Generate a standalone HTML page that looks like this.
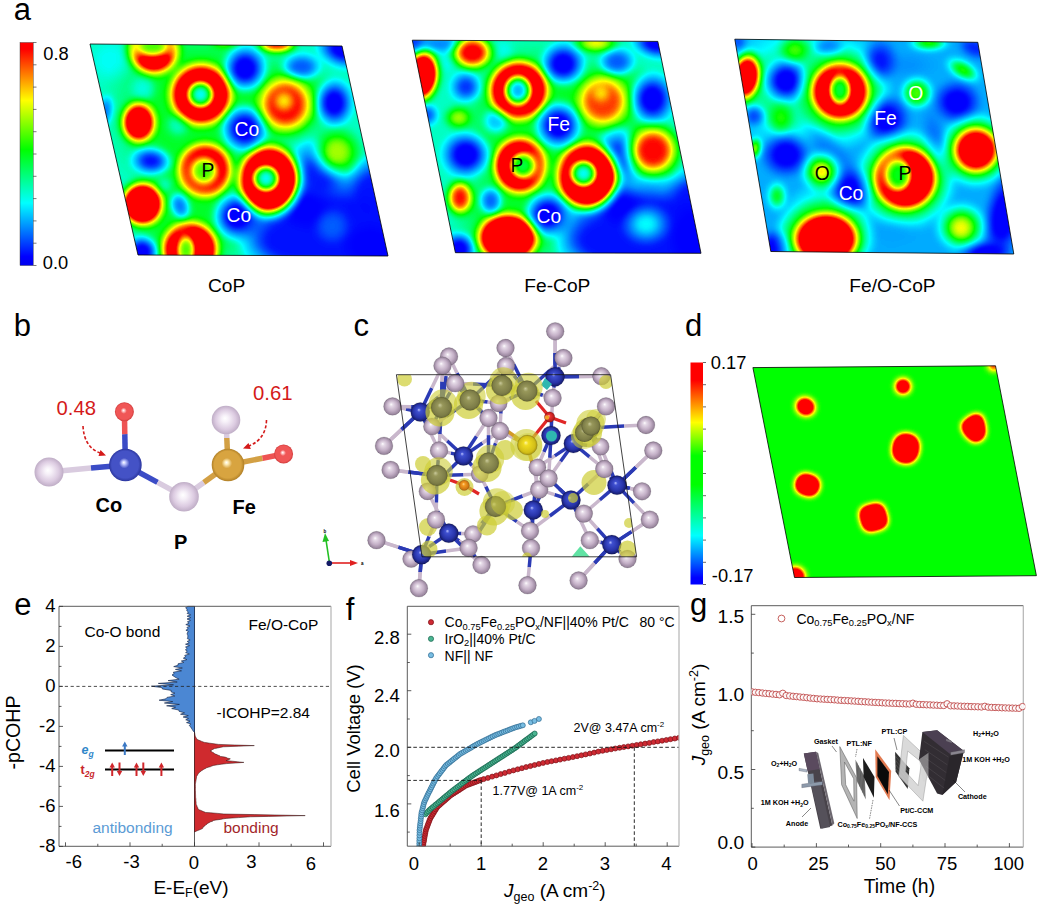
<!DOCTYPE html>
<html><head><meta charset="utf-8"><title>Figure</title>
<style>
html,body{margin:0;padding:0;background:#fff;}
svg{display:block;}
text{font-family:"Liberation Sans", sans-serif;}
</style></head><body>
<svg width="1040" height="904" viewBox="0 0 1040 904">
<defs>

<filter id="jet" x="0" y="0" width="1040" height="904" filterUnits="userSpaceOnUse" color-interpolation-filters="sRGB">
  <feGaussianBlur stdDeviation="3.0"/>
  <feComponentTransfer>
    <feFuncR type="table" tableValues="0.00 0.00 0.00 0.00 0.00 0.00 0.00 0.00 0.00 0.00 0.00 0.00 0.00 0.00 0.00 0.00 0.00 0.00 0.00 0.00 0.00 0.00 0.00 0.00 0.14 0.29 0.43 0.57 0.71 0.86 1.00 1.00 1.00 1.00 1.00 1.00 1.00 1.00 1.00 1.00 1.00 1.00 1.00 1.00 1.00 1.00 1.00 1.00 1.00 1.00 1.00"/>
    <feFuncG type="table" tableValues="0.00 0.00 0.04 0.11 0.19 0.26 0.33 0.41 0.48 0.56 0.63 0.70 0.78 0.85 0.93 1.00 1.00 1.00 1.00 1.00 1.00 1.00 1.00 1.00 1.00 1.00 1.00 1.00 1.00 1.00 1.00 0.86 0.71 0.57 0.43 0.29 0.14 0.00 0.00 0.00 0.00 0.00 0.00 0.00 0.00 0.00 0.00 0.00 0.00 0.00 0.00"/>
    <feFuncB type="table" tableValues="1.00 1.00 1.00 1.00 1.00 1.00 1.00 1.00 1.00 1.00 1.00 1.00 1.00 1.00 1.00 1.00 0.87 0.75 0.63 0.50 0.37 0.25 0.13 0.00 0.00 0.00 0.00 0.00 0.00 0.00 0.00 0.00 0.00 0.00 0.00 0.00 0.00 0.00 0.00 0.00 0.00 0.00 0.00 0.00 0.00 0.00 0.00 0.00 0.00 0.00 0.00"/>
  </feComponentTransfer>
</filter>

<linearGradient id="cbar" x1="0" y1="0" x2="0" y2="1">
  <stop offset="0" stop-color="#f00"/><stop offset="0.03" stop-color="#f00"/>
  <stop offset="0.26" stop-color="#ff0"/>
  <stop offset="0.48" stop-color="#0f0"/>
  <stop offset="0.72" stop-color="#0ff"/>
  <stop offset="0.96" stop-color="#00f"/><stop offset="1" stop-color="#00e"/>
</linearGradient>

<clipPath id="hc1"><polygon points="90.0,44.0 342.0,46.0 388.0,256.0 138.0,255.0"/></clipPath>
<radialGradient id="g1_0"><stop offset="0" stop-color="rgb(117,117,117)" stop-opacity="0.80"/><stop offset="0.50" stop-color="rgb(117,117,117)" stop-opacity="0.80"/><stop offset="0.75" stop-color="rgb(117,117,117)" stop-opacity="0.36"/><stop offset="1" stop-color="rgb(117,117,117)" stop-opacity="0"/></radialGradient>
<radialGradient id="g1_1"><stop offset="0" stop-color="rgb(117,117,117)" stop-opacity="0.80"/><stop offset="0.50" stop-color="rgb(117,117,117)" stop-opacity="0.80"/><stop offset="0.75" stop-color="rgb(117,117,117)" stop-opacity="0.36"/><stop offset="1" stop-color="rgb(117,117,117)" stop-opacity="0"/></radialGradient>
<radialGradient id="g1_2"><stop offset="0" stop-color="rgb(117,117,117)" stop-opacity="0.80"/><stop offset="0.50" stop-color="rgb(117,117,117)" stop-opacity="0.80"/><stop offset="0.75" stop-color="rgb(117,117,117)" stop-opacity="0.36"/><stop offset="1" stop-color="rgb(117,117,117)" stop-opacity="0"/></radialGradient>
<radialGradient id="g1_3"><stop offset="0" stop-color="rgb(12,12,12)" stop-opacity="1.00"/><stop offset="0.50" stop-color="rgb(12,12,12)" stop-opacity="1.00"/><stop offset="0.75" stop-color="rgb(12,12,12)" stop-opacity="0.45"/><stop offset="1" stop-color="rgb(12,12,12)" stop-opacity="0"/></radialGradient>
<radialGradient id="g1_4"><stop offset="0" stop-color="rgb(12,12,12)" stop-opacity="1.00"/><stop offset="0.50" stop-color="rgb(12,12,12)" stop-opacity="1.00"/><stop offset="0.75" stop-color="rgb(12,12,12)" stop-opacity="0.45"/><stop offset="1" stop-color="rgb(12,12,12)" stop-opacity="0"/></radialGradient>
<radialGradient id="g1_5"><stop offset="0" stop-color="rgb(12,12,12)" stop-opacity="0.95"/><stop offset="0.30" stop-color="rgb(12,12,12)" stop-opacity="0.95"/><stop offset="0.65" stop-color="rgb(12,12,12)" stop-opacity="0.43"/><stop offset="1" stop-color="rgb(12,12,12)" stop-opacity="0"/></radialGradient>
<radialGradient id="g1_6"><stop offset="0" stop-color="rgb(10,10,10)" stop-opacity="0.95"/><stop offset="0.40" stop-color="rgb(10,10,10)" stop-opacity="0.95"/><stop offset="0.70" stop-color="rgb(10,10,10)" stop-opacity="0.43"/><stop offset="1" stop-color="rgb(10,10,10)" stop-opacity="0"/></radialGradient>
<radialGradient id="g1_7"><stop offset="0" stop-color="rgb(0,0,0)" stop-opacity="0.90"/><stop offset="0.30" stop-color="rgb(0,0,0)" stop-opacity="0.90"/><stop offset="0.65" stop-color="rgb(0,0,0)" stop-opacity="0.41"/><stop offset="1" stop-color="rgb(0,0,0)" stop-opacity="0"/></radialGradient>
<radialGradient id="g1_8"><stop offset="0" stop-color="rgb(0,0,0)" stop-opacity="0.90"/><stop offset="0.30" stop-color="rgb(0,0,0)" stop-opacity="0.90"/><stop offset="0.65" stop-color="rgb(0,0,0)" stop-opacity="0.41"/><stop offset="1" stop-color="rgb(0,0,0)" stop-opacity="0"/></radialGradient>
<radialGradient id="g1_9"><stop offset="0" stop-color="rgb(38,38,38)" stop-opacity="0.80"/><stop offset="0.40" stop-color="rgb(38,38,38)" stop-opacity="0.80"/><stop offset="0.70" stop-color="rgb(38,38,38)" stop-opacity="0.36"/><stop offset="1" stop-color="rgb(38,38,38)" stop-opacity="0"/></radialGradient>
<radialGradient id="g1_10"><stop offset="0" stop-color="rgb(0,0,0)" stop-opacity="1.00"/><stop offset="0.35" stop-color="rgb(0,0,0)" stop-opacity="1.00"/><stop offset="0.68" stop-color="rgb(0,0,0)" stop-opacity="0.45"/><stop offset="1" stop-color="rgb(0,0,0)" stop-opacity="0"/></radialGradient>
<radialGradient id="g1_11"><stop offset="0" stop-color="rgb(0,0,0)" stop-opacity="1.00"/><stop offset="0.35" stop-color="rgb(0,0,0)" stop-opacity="1.00"/><stop offset="0.68" stop-color="rgb(0,0,0)" stop-opacity="0.45"/><stop offset="1" stop-color="rgb(0,0,0)" stop-opacity="0"/></radialGradient>
<radialGradient id="g1_12"><stop offset="0" stop-color="rgb(0,0,0)" stop-opacity="1.00"/><stop offset="0.35" stop-color="rgb(0,0,0)" stop-opacity="1.00"/><stop offset="0.68" stop-color="rgb(0,0,0)" stop-opacity="0.45"/><stop offset="1" stop-color="rgb(0,0,0)" stop-opacity="0"/></radialGradient>
<radialGradient id="g1_13"><stop offset="0" stop-color="rgb(0,0,0)" stop-opacity="1.00"/><stop offset="0.30" stop-color="rgb(0,0,0)" stop-opacity="1.00"/><stop offset="0.65" stop-color="rgb(0,0,0)" stop-opacity="0.45"/><stop offset="1" stop-color="rgb(0,0,0)" stop-opacity="0"/></radialGradient>
<radialGradient id="g1_14"><stop offset="0" stop-color="rgb(25,25,25)" stop-opacity="0.90"/><stop offset="0.40" stop-color="rgb(25,25,25)" stop-opacity="0.90"/><stop offset="0.70" stop-color="rgb(25,25,25)" stop-opacity="0.41"/><stop offset="1" stop-color="rgb(25,25,25)" stop-opacity="0"/></radialGradient>
<radialGradient id="g1_15"><stop offset="0" stop-color="rgb(0,0,0)" stop-opacity="1.00"/><stop offset="0.35" stop-color="rgb(0,0,0)" stop-opacity="1.00"/><stop offset="0.68" stop-color="rgb(0,0,0)" stop-opacity="0.45"/><stop offset="1" stop-color="rgb(0,0,0)" stop-opacity="0"/></radialGradient>
<radialGradient id="g1_16"><stop offset="0" stop-color="rgb(10,10,10)" stop-opacity="1.00"/><stop offset="0.30" stop-color="rgb(10,10,10)" stop-opacity="1.00"/><stop offset="0.65" stop-color="rgb(10,10,10)" stop-opacity="0.45"/><stop offset="1" stop-color="rgb(10,10,10)" stop-opacity="0"/></radialGradient>
<radialGradient id="g1_17"><stop offset="0" stop-color="rgb(30,30,30)" stop-opacity="0.90"/><stop offset="0.40" stop-color="rgb(30,30,30)" stop-opacity="0.90"/><stop offset="0.70" stop-color="rgb(30,30,30)" stop-opacity="0.41"/><stop offset="1" stop-color="rgb(30,30,30)" stop-opacity="0"/></radialGradient>
<radialGradient id="g1_18"><stop offset="0" stop-color="rgb(0,0,0)" stop-opacity="1.00"/><stop offset="0.40" stop-color="rgb(0,0,0)" stop-opacity="1.00"/><stop offset="0.70" stop-color="rgb(0,0,0)" stop-opacity="0.45"/><stop offset="1" stop-color="rgb(0,0,0)" stop-opacity="0"/></radialGradient>
<radialGradient id="g1_19"><stop offset="0" stop-color="rgb(30,30,30)" stop-opacity="0.90"/><stop offset="0.40" stop-color="rgb(30,30,30)" stop-opacity="0.90"/><stop offset="0.70" stop-color="rgb(30,30,30)" stop-opacity="0.41"/><stop offset="1" stop-color="rgb(30,30,30)" stop-opacity="0"/></radialGradient>
<radialGradient id="g1_20"><stop offset="0" stop-color="rgb(76,76,76)" stop-opacity="0.80"/><stop offset="0.40" stop-color="rgb(76,76,76)" stop-opacity="0.80"/><stop offset="0.70" stop-color="rgb(76,76,76)" stop-opacity="0.36"/><stop offset="1" stop-color="rgb(76,76,76)" stop-opacity="0"/></radialGradient>
<radialGradient id="g1_21"><stop offset="0" stop-color="rgb(76,76,76)" stop-opacity="0.70"/><stop offset="0.40" stop-color="rgb(76,76,76)" stop-opacity="0.70"/><stop offset="0.70" stop-color="rgb(76,76,76)" stop-opacity="0.32"/><stop offset="1" stop-color="rgb(76,76,76)" stop-opacity="0"/></radialGradient>
<radialGradient id="g1_22"><stop offset="0" stop-color="rgb(76,76,76)" stop-opacity="0.80"/><stop offset="0.40" stop-color="rgb(76,76,76)" stop-opacity="0.80"/><stop offset="0.70" stop-color="rgb(76,76,76)" stop-opacity="0.36"/><stop offset="1" stop-color="rgb(76,76,76)" stop-opacity="0"/></radialGradient>
<radialGradient id="g1_23"><stop offset="0" stop-color="rgb(76,76,76)" stop-opacity="0.70"/><stop offset="0.40" stop-color="rgb(76,76,76)" stop-opacity="0.70"/><stop offset="0.70" stop-color="rgb(76,76,76)" stop-opacity="0.32"/><stop offset="1" stop-color="rgb(76,76,76)" stop-opacity="0"/></radialGradient>
<radialGradient id="g1_24"><stop offset="0" stop-color="rgb(127,127,127)" stop-opacity="0.80"/><stop offset="0.40" stop-color="rgb(127,127,127)" stop-opacity="0.80"/><stop offset="0.70" stop-color="rgb(127,127,127)" stop-opacity="0.36"/><stop offset="1" stop-color="rgb(127,127,127)" stop-opacity="0"/></radialGradient>
<radialGradient id="g1_25"><stop offset="0" stop-color="rgb(140,140,140)" stop-opacity="1.00"/><stop offset="0.30" stop-color="rgb(140,140,140)" stop-opacity="1.00"/><stop offset="0.65" stop-color="rgb(140,140,140)" stop-opacity="0.45"/><stop offset="1" stop-color="rgb(140,140,140)" stop-opacity="0"/></radialGradient>
<radialGradient id="g1_26"><stop offset="0" stop-color="rgb(255,255,255)" stop-opacity="1.00"/><stop offset="0.50" stop-color="rgb(255,255,255)" stop-opacity="1.00"/><stop offset="0.75" stop-color="rgb(255,255,255)" stop-opacity="0.45"/><stop offset="1" stop-color="rgb(255,255,255)" stop-opacity="0"/></radialGradient>
<radialGradient id="g1_27"><stop offset="0" stop-color="rgb(76,76,76)" stop-opacity="1.00"/><stop offset="0.30" stop-color="rgb(76,76,76)" stop-opacity="1.00"/><stop offset="0.65" stop-color="rgb(76,76,76)" stop-opacity="0.45"/><stop offset="1" stop-color="rgb(76,76,76)" stop-opacity="0"/></radialGradient>
<radialGradient id="g1_28"><stop offset="0" stop-color="rgb(255,255,255)" stop-opacity="1.00"/><stop offset="0.50" stop-color="rgb(255,255,255)" stop-opacity="1.00"/><stop offset="0.75" stop-color="rgb(255,255,255)" stop-opacity="0.45"/><stop offset="1" stop-color="rgb(255,255,255)" stop-opacity="0"/></radialGradient>
<radialGradient id="g1_29"><stop offset="0" stop-color="rgb(127,127,127)" stop-opacity="1.00"/><stop offset="0.35" stop-color="rgb(127,127,127)" stop-opacity="1.00"/><stop offset="0.68" stop-color="rgb(127,127,127)" stop-opacity="0.45"/><stop offset="1" stop-color="rgb(127,127,127)" stop-opacity="0"/></radialGradient>
<radialGradient id="g1_30"><stop offset="0" stop-color="rgb(255,255,255)" stop-opacity="1.00"/><stop offset="0.55" stop-color="rgb(255,255,255)" stop-opacity="1.00"/><stop offset="0.78" stop-color="rgb(255,255,255)" stop-opacity="0.45"/><stop offset="1" stop-color="rgb(255,255,255)" stop-opacity="0"/></radialGradient>
<radialGradient id="g1_31"><stop offset="0" stop-color="rgb(76,76,76)" stop-opacity="1.00"/><stop offset="0.30" stop-color="rgb(76,76,76)" stop-opacity="1.00"/><stop offset="0.65" stop-color="rgb(76,76,76)" stop-opacity="0.45"/><stop offset="1" stop-color="rgb(76,76,76)" stop-opacity="0"/></radialGradient>
<radialGradient id="g1_32"><stop offset="0" stop-color="rgb(189,189,189)" stop-opacity="1.00"/><stop offset="0.45" stop-color="rgb(189,189,189)" stop-opacity="1.00"/><stop offset="0.72" stop-color="rgb(189,189,189)" stop-opacity="0.45"/><stop offset="1" stop-color="rgb(189,189,189)" stop-opacity="0"/></radialGradient>
<radialGradient id="g1_33"><stop offset="0" stop-color="rgb(153,153,153)" stop-opacity="0.95"/><stop offset="0.40" stop-color="rgb(153,153,153)" stop-opacity="0.95"/><stop offset="0.70" stop-color="rgb(153,153,153)" stop-opacity="0.43"/><stop offset="1" stop-color="rgb(153,153,153)" stop-opacity="0"/></radialGradient>
<radialGradient id="g1_34"><stop offset="0" stop-color="rgb(255,255,255)" stop-opacity="1.00"/><stop offset="0.45" stop-color="rgb(255,255,255)" stop-opacity="1.00"/><stop offset="0.72" stop-color="rgb(255,255,255)" stop-opacity="0.45"/><stop offset="1" stop-color="rgb(255,255,255)" stop-opacity="0"/></radialGradient>
<radialGradient id="g1_35"><stop offset="0" stop-color="rgb(127,127,127)" stop-opacity="1.00"/><stop offset="0.35" stop-color="rgb(127,127,127)" stop-opacity="1.00"/><stop offset="0.68" stop-color="rgb(127,127,127)" stop-opacity="0.45"/><stop offset="1" stop-color="rgb(127,127,127)" stop-opacity="0"/></radialGradient>
<radialGradient id="g1_36"><stop offset="0" stop-color="rgb(234,234,234)" stop-opacity="1.00"/><stop offset="0.40" stop-color="rgb(234,234,234)" stop-opacity="1.00"/><stop offset="0.70" stop-color="rgb(234,234,234)" stop-opacity="0.45"/><stop offset="1" stop-color="rgb(234,234,234)" stop-opacity="0"/></radialGradient>
<radialGradient id="g1_37"><stop offset="0" stop-color="rgb(255,255,255)" stop-opacity="1.00"/><stop offset="0.45" stop-color="rgb(255,255,255)" stop-opacity="1.00"/><stop offset="0.72" stop-color="rgb(255,255,255)" stop-opacity="0.45"/><stop offset="1" stop-color="rgb(255,255,255)" stop-opacity="0"/></radialGradient>
<radialGradient id="g1_38"><stop offset="0" stop-color="rgb(255,255,255)" stop-opacity="1.00"/><stop offset="0.50" stop-color="rgb(255,255,255)" stop-opacity="1.00"/><stop offset="0.75" stop-color="rgb(255,255,255)" stop-opacity="0.45"/><stop offset="1" stop-color="rgb(255,255,255)" stop-opacity="0"/></radialGradient>
<radialGradient id="g1_39"><stop offset="0" stop-color="rgb(127,127,127)" stop-opacity="1.00"/><stop offset="0.35" stop-color="rgb(127,127,127)" stop-opacity="1.00"/><stop offset="0.68" stop-color="rgb(127,127,127)" stop-opacity="0.45"/><stop offset="1" stop-color="rgb(127,127,127)" stop-opacity="0"/></radialGradient>
<radialGradient id="g1_40"><stop offset="0" stop-color="rgb(191,191,191)" stop-opacity="1.00"/><stop offset="0.40" stop-color="rgb(191,191,191)" stop-opacity="1.00"/><stop offset="0.70" stop-color="rgb(191,191,191)" stop-opacity="0.45"/><stop offset="1" stop-color="rgb(191,191,191)" stop-opacity="0"/></radialGradient>
<radialGradient id="g1_41"><stop offset="0" stop-color="rgb(140,140,140)" stop-opacity="0.90"/><stop offset="0.40" stop-color="rgb(140,140,140)" stop-opacity="0.90"/><stop offset="0.70" stop-color="rgb(140,140,140)" stop-opacity="0.41"/><stop offset="1" stop-color="rgb(140,140,140)" stop-opacity="0"/></radialGradient>
<clipPath id="hc2"><polygon points="412.3,40.2 657.8,41.4 701.0,253.3 455.4,252.7"/></clipPath>
<radialGradient id="g2_0"><stop offset="0" stop-color="rgb(117,117,117)" stop-opacity="0.80"/><stop offset="0.50" stop-color="rgb(117,117,117)" stop-opacity="0.80"/><stop offset="0.75" stop-color="rgb(117,117,117)" stop-opacity="0.36"/><stop offset="1" stop-color="rgb(117,117,117)" stop-opacity="0"/></radialGradient>
<radialGradient id="g2_1"><stop offset="0" stop-color="rgb(117,117,117)" stop-opacity="0.80"/><stop offset="0.50" stop-color="rgb(117,117,117)" stop-opacity="0.80"/><stop offset="0.75" stop-color="rgb(117,117,117)" stop-opacity="0.36"/><stop offset="1" stop-color="rgb(117,117,117)" stop-opacity="0"/></radialGradient>
<radialGradient id="g2_2"><stop offset="0" stop-color="rgb(117,117,117)" stop-opacity="0.80"/><stop offset="0.50" stop-color="rgb(117,117,117)" stop-opacity="0.80"/><stop offset="0.75" stop-color="rgb(117,117,117)" stop-opacity="0.36"/><stop offset="1" stop-color="rgb(117,117,117)" stop-opacity="0"/></radialGradient>
<radialGradient id="g2_3"><stop offset="0" stop-color="rgb(12,12,12)" stop-opacity="1.00"/><stop offset="0.50" stop-color="rgb(12,12,12)" stop-opacity="1.00"/><stop offset="0.75" stop-color="rgb(12,12,12)" stop-opacity="0.45"/><stop offset="1" stop-color="rgb(12,12,12)" stop-opacity="0"/></radialGradient>
<radialGradient id="g2_4"><stop offset="0" stop-color="rgb(12,12,12)" stop-opacity="1.00"/><stop offset="0.50" stop-color="rgb(12,12,12)" stop-opacity="1.00"/><stop offset="0.75" stop-color="rgb(12,12,12)" stop-opacity="0.45"/><stop offset="1" stop-color="rgb(12,12,12)" stop-opacity="0"/></radialGradient>
<radialGradient id="g2_5"><stop offset="0" stop-color="rgb(15,15,15)" stop-opacity="0.90"/><stop offset="0.30" stop-color="rgb(15,15,15)" stop-opacity="0.90"/><stop offset="0.65" stop-color="rgb(15,15,15)" stop-opacity="0.41"/><stop offset="1" stop-color="rgb(15,15,15)" stop-opacity="0"/></radialGradient>
<radialGradient id="g2_6"><stop offset="0" stop-color="rgb(10,10,10)" stop-opacity="0.95"/><stop offset="0.40" stop-color="rgb(10,10,10)" stop-opacity="0.95"/><stop offset="0.70" stop-color="rgb(10,10,10)" stop-opacity="0.43"/><stop offset="1" stop-color="rgb(10,10,10)" stop-opacity="0"/></radialGradient>
<radialGradient id="g2_7"><stop offset="0" stop-color="rgb(0,0,0)" stop-opacity="0.90"/><stop offset="0.30" stop-color="rgb(0,0,0)" stop-opacity="0.90"/><stop offset="0.65" stop-color="rgb(0,0,0)" stop-opacity="0.41"/><stop offset="1" stop-color="rgb(0,0,0)" stop-opacity="0"/></radialGradient>
<radialGradient id="g2_8"><stop offset="0" stop-color="rgb(0,0,0)" stop-opacity="0.90"/><stop offset="0.30" stop-color="rgb(0,0,0)" stop-opacity="0.90"/><stop offset="0.65" stop-color="rgb(0,0,0)" stop-opacity="0.41"/><stop offset="1" stop-color="rgb(0,0,0)" stop-opacity="0"/></radialGradient>
<radialGradient id="g2_9"><stop offset="0" stop-color="rgb(84,84,84)" stop-opacity="0.90"/><stop offset="0.25" stop-color="rgb(84,84,84)" stop-opacity="0.90"/><stop offset="0.62" stop-color="rgb(84,84,84)" stop-opacity="0.41"/><stop offset="1" stop-color="rgb(84,84,84)" stop-opacity="0"/></radialGradient>
<radialGradient id="g2_10"><stop offset="0" stop-color="rgb(0,0,0)" stop-opacity="1.00"/><stop offset="0.35" stop-color="rgb(0,0,0)" stop-opacity="1.00"/><stop offset="0.68" stop-color="rgb(0,0,0)" stop-opacity="0.45"/><stop offset="1" stop-color="rgb(0,0,0)" stop-opacity="0"/></radialGradient>
<radialGradient id="g2_11"><stop offset="0" stop-color="rgb(0,0,0)" stop-opacity="1.00"/><stop offset="0.35" stop-color="rgb(0,0,0)" stop-opacity="1.00"/><stop offset="0.68" stop-color="rgb(0,0,0)" stop-opacity="0.45"/><stop offset="1" stop-color="rgb(0,0,0)" stop-opacity="0"/></radialGradient>
<radialGradient id="g2_12"><stop offset="0" stop-color="rgb(0,0,0)" stop-opacity="1.00"/><stop offset="0.35" stop-color="rgb(0,0,0)" stop-opacity="1.00"/><stop offset="0.68" stop-color="rgb(0,0,0)" stop-opacity="0.45"/><stop offset="1" stop-color="rgb(0,0,0)" stop-opacity="0"/></radialGradient>
<radialGradient id="g2_13"><stop offset="0" stop-color="rgb(0,0,0)" stop-opacity="1.00"/><stop offset="0.30" stop-color="rgb(0,0,0)" stop-opacity="1.00"/><stop offset="0.65" stop-color="rgb(0,0,0)" stop-opacity="0.45"/><stop offset="1" stop-color="rgb(0,0,0)" stop-opacity="0"/></radialGradient>
<radialGradient id="g2_14"><stop offset="0" stop-color="rgb(25,25,25)" stop-opacity="0.90"/><stop offset="0.40" stop-color="rgb(25,25,25)" stop-opacity="0.90"/><stop offset="0.70" stop-color="rgb(25,25,25)" stop-opacity="0.41"/><stop offset="1" stop-color="rgb(25,25,25)" stop-opacity="0"/></radialGradient>
<radialGradient id="g2_15"><stop offset="0" stop-color="rgb(0,0,0)" stop-opacity="1.00"/><stop offset="0.35" stop-color="rgb(0,0,0)" stop-opacity="1.00"/><stop offset="0.68" stop-color="rgb(0,0,0)" stop-opacity="0.45"/><stop offset="1" stop-color="rgb(0,0,0)" stop-opacity="0"/></radialGradient>
<radialGradient id="g2_16"><stop offset="0" stop-color="rgb(0,0,0)" stop-opacity="1.00"/><stop offset="0.35" stop-color="rgb(0,0,0)" stop-opacity="1.00"/><stop offset="0.68" stop-color="rgb(0,0,0)" stop-opacity="0.45"/><stop offset="1" stop-color="rgb(0,0,0)" stop-opacity="0"/></radialGradient>
<radialGradient id="g2_17"><stop offset="0" stop-color="rgb(20,20,20)" stop-opacity="1.00"/><stop offset="0.30" stop-color="rgb(20,20,20)" stop-opacity="1.00"/><stop offset="0.65" stop-color="rgb(20,20,20)" stop-opacity="0.45"/><stop offset="1" stop-color="rgb(20,20,20)" stop-opacity="0"/></radialGradient>
<radialGradient id="g2_18"><stop offset="0" stop-color="rgb(25,25,25)" stop-opacity="0.90"/><stop offset="0.40" stop-color="rgb(25,25,25)" stop-opacity="0.90"/><stop offset="0.70" stop-color="rgb(25,25,25)" stop-opacity="0.41"/><stop offset="1" stop-color="rgb(25,25,25)" stop-opacity="0"/></radialGradient>
<radialGradient id="g2_19"><stop offset="0" stop-color="rgb(0,0,0)" stop-opacity="1.00"/><stop offset="0.40" stop-color="rgb(0,0,0)" stop-opacity="1.00"/><stop offset="0.70" stop-color="rgb(0,0,0)" stop-opacity="0.45"/><stop offset="1" stop-color="rgb(0,0,0)" stop-opacity="0"/></radialGradient>
<radialGradient id="g2_20"><stop offset="0" stop-color="rgb(12,12,12)" stop-opacity="0.90"/><stop offset="0.40" stop-color="rgb(12,12,12)" stop-opacity="0.90"/><stop offset="0.70" stop-color="rgb(12,12,12)" stop-opacity="0.41"/><stop offset="1" stop-color="rgb(12,12,12)" stop-opacity="0"/></radialGradient>
<radialGradient id="g2_21"><stop offset="0" stop-color="rgb(76,76,76)" stop-opacity="0.80"/><stop offset="0.40" stop-color="rgb(76,76,76)" stop-opacity="0.80"/><stop offset="0.70" stop-color="rgb(76,76,76)" stop-opacity="0.36"/><stop offset="1" stop-color="rgb(76,76,76)" stop-opacity="0"/></radialGradient>
<radialGradient id="g2_22"><stop offset="0" stop-color="rgb(76,76,76)" stop-opacity="0.80"/><stop offset="0.40" stop-color="rgb(76,76,76)" stop-opacity="0.80"/><stop offset="0.70" stop-color="rgb(76,76,76)" stop-opacity="0.36"/><stop offset="1" stop-color="rgb(76,76,76)" stop-opacity="0"/></radialGradient>
<radialGradient id="g2_23"><stop offset="0" stop-color="rgb(56,56,56)" stop-opacity="0.90"/><stop offset="0.40" stop-color="rgb(56,56,56)" stop-opacity="0.90"/><stop offset="0.70" stop-color="rgb(56,56,56)" stop-opacity="0.41"/><stop offset="1" stop-color="rgb(56,56,56)" stop-opacity="0"/></radialGradient>
<radialGradient id="g2_24"><stop offset="0" stop-color="rgb(20,20,20)" stop-opacity="0.90"/><stop offset="0.40" stop-color="rgb(20,20,20)" stop-opacity="0.90"/><stop offset="0.70" stop-color="rgb(20,20,20)" stop-opacity="0.41"/><stop offset="1" stop-color="rgb(20,20,20)" stop-opacity="0"/></radialGradient>
<radialGradient id="g2_25"><stop offset="0" stop-color="rgb(38,38,38)" stop-opacity="0.90"/><stop offset="0.40" stop-color="rgb(38,38,38)" stop-opacity="0.90"/><stop offset="0.70" stop-color="rgb(38,38,38)" stop-opacity="0.41"/><stop offset="1" stop-color="rgb(38,38,38)" stop-opacity="0"/></radialGradient>
<radialGradient id="g2_26"><stop offset="0" stop-color="rgb(142,142,142)" stop-opacity="1.00"/><stop offset="0.30" stop-color="rgb(142,142,142)" stop-opacity="1.00"/><stop offset="0.65" stop-color="rgb(142,142,142)" stop-opacity="0.45"/><stop offset="1" stop-color="rgb(142,142,142)" stop-opacity="0"/></radialGradient>
<radialGradient id="g2_27"><stop offset="0" stop-color="rgb(153,153,153)" stop-opacity="1.00"/><stop offset="0.30" stop-color="rgb(153,153,153)" stop-opacity="1.00"/><stop offset="0.65" stop-color="rgb(153,153,153)" stop-opacity="0.45"/><stop offset="1" stop-color="rgb(153,153,153)" stop-opacity="0"/></radialGradient>
<radialGradient id="g2_28"><stop offset="0" stop-color="rgb(188,188,188)" stop-opacity="1.00"/><stop offset="0.40" stop-color="rgb(188,188,188)" stop-opacity="1.00"/><stop offset="0.70" stop-color="rgb(188,188,188)" stop-opacity="0.45"/><stop offset="1" stop-color="rgb(188,188,188)" stop-opacity="0"/></radialGradient>
<radialGradient id="g2_29"><stop offset="0" stop-color="rgb(255,255,255)" stop-opacity="1.00"/><stop offset="0.50" stop-color="rgb(255,255,255)" stop-opacity="1.00"/><stop offset="0.75" stop-color="rgb(255,255,255)" stop-opacity="0.45"/><stop offset="1" stop-color="rgb(255,255,255)" stop-opacity="0"/></radialGradient>
<radialGradient id="g2_30"><stop offset="0" stop-color="rgb(56,56,56)" stop-opacity="1.00"/><stop offset="0.30" stop-color="rgb(56,56,56)" stop-opacity="1.00"/><stop offset="0.65" stop-color="rgb(56,56,56)" stop-opacity="0.45"/><stop offset="1" stop-color="rgb(56,56,56)" stop-opacity="0"/></radialGradient>
<radialGradient id="g2_31"><stop offset="0" stop-color="rgb(255,255,255)" stop-opacity="1.00"/><stop offset="0.50" stop-color="rgb(255,255,255)" stop-opacity="1.00"/><stop offset="0.75" stop-color="rgb(255,255,255)" stop-opacity="0.45"/><stop offset="1" stop-color="rgb(255,255,255)" stop-opacity="0"/></radialGradient>
<radialGradient id="g2_32"><stop offset="0" stop-color="rgb(107,107,107)" stop-opacity="1.00"/><stop offset="0.35" stop-color="rgb(107,107,107)" stop-opacity="1.00"/><stop offset="0.68" stop-color="rgb(107,107,107)" stop-opacity="0.45"/><stop offset="1" stop-color="rgb(107,107,107)" stop-opacity="0"/></radialGradient>
<radialGradient id="g2_33"><stop offset="0" stop-color="rgb(255,255,255)" stop-opacity="1.00"/><stop offset="0.55" stop-color="rgb(255,255,255)" stop-opacity="1.00"/><stop offset="0.78" stop-color="rgb(255,255,255)" stop-opacity="0.45"/><stop offset="1" stop-color="rgb(255,255,255)" stop-opacity="0"/></radialGradient>
<radialGradient id="g2_34"><stop offset="0" stop-color="rgb(76,76,76)" stop-opacity="1.00"/><stop offset="0.30" stop-color="rgb(76,76,76)" stop-opacity="1.00"/><stop offset="0.65" stop-color="rgb(76,76,76)" stop-opacity="0.45"/><stop offset="1" stop-color="rgb(76,76,76)" stop-opacity="0"/></radialGradient>
<radialGradient id="g2_35"><stop offset="0" stop-color="rgb(181,181,181)" stop-opacity="1.00"/><stop offset="0.45" stop-color="rgb(181,181,181)" stop-opacity="1.00"/><stop offset="0.72" stop-color="rgb(181,181,181)" stop-opacity="0.45"/><stop offset="1" stop-color="rgb(181,181,181)" stop-opacity="0"/></radialGradient>
<radialGradient id="g2_36"><stop offset="0" stop-color="rgb(153,153,153)" stop-opacity="0.90"/><stop offset="0.40" stop-color="rgb(153,153,153)" stop-opacity="0.90"/><stop offset="0.70" stop-color="rgb(153,153,153)" stop-opacity="0.41"/><stop offset="1" stop-color="rgb(153,153,153)" stop-opacity="0"/></radialGradient>
<radialGradient id="g2_37"><stop offset="0" stop-color="rgb(193,193,193)" stop-opacity="1.00"/><stop offset="0.40" stop-color="rgb(193,193,193)" stop-opacity="1.00"/><stop offset="0.70" stop-color="rgb(193,193,193)" stop-opacity="0.45"/><stop offset="1" stop-color="rgb(193,193,193)" stop-opacity="0"/></radialGradient>
<radialGradient id="g2_38"><stop offset="0" stop-color="rgb(255,255,255)" stop-opacity="1.00"/><stop offset="0.40" stop-color="rgb(255,255,255)" stop-opacity="1.00"/><stop offset="0.70" stop-color="rgb(255,255,255)" stop-opacity="0.45"/><stop offset="1" stop-color="rgb(255,255,255)" stop-opacity="0"/></radialGradient>
<radialGradient id="g2_39"><stop offset="0" stop-color="rgb(188,188,188)" stop-opacity="1.00"/><stop offset="0.40" stop-color="rgb(188,188,188)" stop-opacity="1.00"/><stop offset="0.70" stop-color="rgb(188,188,188)" stop-opacity="0.45"/><stop offset="1" stop-color="rgb(188,188,188)" stop-opacity="0"/></radialGradient>
<radialGradient id="g2_40"><stop offset="0" stop-color="rgb(255,255,255)" stop-opacity="1.00"/><stop offset="0.50" stop-color="rgb(255,255,255)" stop-opacity="1.00"/><stop offset="0.75" stop-color="rgb(255,255,255)" stop-opacity="0.45"/><stop offset="1" stop-color="rgb(255,255,255)" stop-opacity="0"/></radialGradient>
<clipPath id="hc3"><polygon points="734.8,39.2 977.8,42.3 1013.8,254.0 770.8,251.5"/></clipPath>
<radialGradient id="g3_0"><stop offset="0" stop-color="rgb(107,107,107)" stop-opacity="0.80"/><stop offset="0.50" stop-color="rgb(107,107,107)" stop-opacity="0.80"/><stop offset="0.75" stop-color="rgb(107,107,107)" stop-opacity="0.36"/><stop offset="1" stop-color="rgb(107,107,107)" stop-opacity="0"/></radialGradient>
<radialGradient id="g3_1"><stop offset="0" stop-color="rgb(107,107,107)" stop-opacity="0.80"/><stop offset="0.50" stop-color="rgb(107,107,107)" stop-opacity="0.80"/><stop offset="0.75" stop-color="rgb(107,107,107)" stop-opacity="0.36"/><stop offset="1" stop-color="rgb(107,107,107)" stop-opacity="0"/></radialGradient>
<radialGradient id="g3_2"><stop offset="0" stop-color="rgb(107,107,107)" stop-opacity="0.80"/><stop offset="0.50" stop-color="rgb(107,107,107)" stop-opacity="0.80"/><stop offset="0.75" stop-color="rgb(107,107,107)" stop-opacity="0.36"/><stop offset="1" stop-color="rgb(107,107,107)" stop-opacity="0"/></radialGradient>
<radialGradient id="g3_3"><stop offset="0" stop-color="rgb(107,107,107)" stop-opacity="0.80"/><stop offset="0.50" stop-color="rgb(107,107,107)" stop-opacity="0.80"/><stop offset="0.75" stop-color="rgb(107,107,107)" stop-opacity="0.36"/><stop offset="1" stop-color="rgb(107,107,107)" stop-opacity="0"/></radialGradient>
<radialGradient id="g3_4"><stop offset="0" stop-color="rgb(102,102,102)" stop-opacity="0.80"/><stop offset="0.50" stop-color="rgb(102,102,102)" stop-opacity="0.80"/><stop offset="0.75" stop-color="rgb(102,102,102)" stop-opacity="0.36"/><stop offset="1" stop-color="rgb(102,102,102)" stop-opacity="0"/></radialGradient>
<radialGradient id="g3_5"><stop offset="0" stop-color="rgb(94,94,94)" stop-opacity="0.80"/><stop offset="0.50" stop-color="rgb(94,94,94)" stop-opacity="0.80"/><stop offset="0.75" stop-color="rgb(94,94,94)" stop-opacity="0.36"/><stop offset="1" stop-color="rgb(94,94,94)" stop-opacity="0"/></radialGradient>
<radialGradient id="g3_6"><stop offset="0" stop-color="rgb(38,38,38)" stop-opacity="0.90"/><stop offset="0.40" stop-color="rgb(38,38,38)" stop-opacity="0.90"/><stop offset="0.70" stop-color="rgb(38,38,38)" stop-opacity="0.41"/><stop offset="1" stop-color="rgb(38,38,38)" stop-opacity="0"/></radialGradient>
<radialGradient id="g3_7"><stop offset="0" stop-color="rgb(38,38,38)" stop-opacity="0.90"/><stop offset="0.40" stop-color="rgb(38,38,38)" stop-opacity="0.90"/><stop offset="0.70" stop-color="rgb(38,38,38)" stop-opacity="0.41"/><stop offset="1" stop-color="rgb(38,38,38)" stop-opacity="0"/></radialGradient>
<radialGradient id="g3_8"><stop offset="0" stop-color="rgb(51,51,51)" stop-opacity="0.80"/><stop offset="0.30" stop-color="rgb(51,51,51)" stop-opacity="0.80"/><stop offset="0.65" stop-color="rgb(51,51,51)" stop-opacity="0.36"/><stop offset="1" stop-color="rgb(51,51,51)" stop-opacity="0"/></radialGradient>
<radialGradient id="g3_9"><stop offset="0" stop-color="rgb(45,45,45)" stop-opacity="0.80"/><stop offset="0.30" stop-color="rgb(45,45,45)" stop-opacity="0.80"/><stop offset="0.65" stop-color="rgb(45,45,45)" stop-opacity="0.36"/><stop offset="1" stop-color="rgb(45,45,45)" stop-opacity="0"/></radialGradient>
<radialGradient id="g3_10"><stop offset="0" stop-color="rgb(0,0,0)" stop-opacity="1.00"/><stop offset="0.35" stop-color="rgb(0,0,0)" stop-opacity="1.00"/><stop offset="0.68" stop-color="rgb(0,0,0)" stop-opacity="0.45"/><stop offset="1" stop-color="rgb(0,0,0)" stop-opacity="0"/></radialGradient>
<radialGradient id="g3_11"><stop offset="0" stop-color="rgb(12,12,12)" stop-opacity="1.00"/><stop offset="0.30" stop-color="rgb(12,12,12)" stop-opacity="1.00"/><stop offset="0.65" stop-color="rgb(12,12,12)" stop-opacity="0.45"/><stop offset="1" stop-color="rgb(12,12,12)" stop-opacity="0"/></radialGradient>
<radialGradient id="g3_12"><stop offset="0" stop-color="rgb(0,0,0)" stop-opacity="1.00"/><stop offset="0.35" stop-color="rgb(0,0,0)" stop-opacity="1.00"/><stop offset="0.68" stop-color="rgb(0,0,0)" stop-opacity="0.45"/><stop offset="1" stop-color="rgb(0,0,0)" stop-opacity="0"/></radialGradient>
<radialGradient id="g3_13"><stop offset="0" stop-color="rgb(0,0,0)" stop-opacity="1.00"/><stop offset="0.35" stop-color="rgb(0,0,0)" stop-opacity="1.00"/><stop offset="0.68" stop-color="rgb(0,0,0)" stop-opacity="0.45"/><stop offset="1" stop-color="rgb(0,0,0)" stop-opacity="0"/></radialGradient>
<radialGradient id="g3_14"><stop offset="0" stop-color="rgb(0,0,0)" stop-opacity="1.00"/><stop offset="0.35" stop-color="rgb(0,0,0)" stop-opacity="1.00"/><stop offset="0.68" stop-color="rgb(0,0,0)" stop-opacity="0.45"/><stop offset="1" stop-color="rgb(0,0,0)" stop-opacity="0"/></radialGradient>
<radialGradient id="g3_15"><stop offset="0" stop-color="rgb(0,0,0)" stop-opacity="1.00"/><stop offset="0.35" stop-color="rgb(0,0,0)" stop-opacity="1.00"/><stop offset="0.68" stop-color="rgb(0,0,0)" stop-opacity="0.45"/><stop offset="1" stop-color="rgb(0,0,0)" stop-opacity="0"/></radialGradient>
<radialGradient id="g3_16"><stop offset="0" stop-color="rgb(0,0,0)" stop-opacity="1.00"/><stop offset="0.40" stop-color="rgb(0,0,0)" stop-opacity="1.00"/><stop offset="0.70" stop-color="rgb(0,0,0)" stop-opacity="0.45"/><stop offset="1" stop-color="rgb(0,0,0)" stop-opacity="0"/></radialGradient>
<radialGradient id="g3_17"><stop offset="0" stop-color="rgb(0,0,0)" stop-opacity="1.00"/><stop offset="0.40" stop-color="rgb(0,0,0)" stop-opacity="1.00"/><stop offset="0.70" stop-color="rgb(0,0,0)" stop-opacity="0.45"/><stop offset="1" stop-color="rgb(0,0,0)" stop-opacity="0"/></radialGradient>
<radialGradient id="g3_18"><stop offset="0" stop-color="rgb(0,0,0)" stop-opacity="1.00"/><stop offset="0.40" stop-color="rgb(0,0,0)" stop-opacity="1.00"/><stop offset="0.70" stop-color="rgb(0,0,0)" stop-opacity="0.45"/><stop offset="1" stop-color="rgb(0,0,0)" stop-opacity="0"/></radialGradient>
<radialGradient id="g3_19"><stop offset="0" stop-color="rgb(12,12,12)" stop-opacity="0.90"/><stop offset="0.40" stop-color="rgb(12,12,12)" stop-opacity="0.90"/><stop offset="0.70" stop-color="rgb(12,12,12)" stop-opacity="0.41"/><stop offset="1" stop-color="rgb(12,12,12)" stop-opacity="0"/></radialGradient>
<radialGradient id="g3_20"><stop offset="0" stop-color="rgb(20,20,20)" stop-opacity="0.80"/><stop offset="0.40" stop-color="rgb(20,20,20)" stop-opacity="0.80"/><stop offset="0.70" stop-color="rgb(20,20,20)" stop-opacity="0.36"/><stop offset="1" stop-color="rgb(20,20,20)" stop-opacity="0"/></radialGradient>
<radialGradient id="g3_21"><stop offset="0" stop-color="rgb(30,30,30)" stop-opacity="0.80"/><stop offset="0.40" stop-color="rgb(30,30,30)" stop-opacity="0.80"/><stop offset="0.70" stop-color="rgb(30,30,30)" stop-opacity="0.36"/><stop offset="1" stop-color="rgb(30,30,30)" stop-opacity="0"/></radialGradient>
<radialGradient id="g3_22"><stop offset="0" stop-color="rgb(20,20,20)" stop-opacity="0.90"/><stop offset="0.40" stop-color="rgb(20,20,20)" stop-opacity="0.90"/><stop offset="0.70" stop-color="rgb(20,20,20)" stop-opacity="0.41"/><stop offset="1" stop-color="rgb(20,20,20)" stop-opacity="0"/></radialGradient>
<radialGradient id="g3_23"><stop offset="0" stop-color="rgb(127,127,127)" stop-opacity="1.00"/><stop offset="0.30" stop-color="rgb(127,127,127)" stop-opacity="1.00"/><stop offset="0.65" stop-color="rgb(127,127,127)" stop-opacity="0.45"/><stop offset="1" stop-color="rgb(127,127,127)" stop-opacity="0"/></radialGradient>
<radialGradient id="g3_24"><stop offset="0" stop-color="rgb(122,122,122)" stop-opacity="1.00"/><stop offset="0.30" stop-color="rgb(122,122,122)" stop-opacity="1.00"/><stop offset="0.65" stop-color="rgb(122,122,122)" stop-opacity="0.45"/><stop offset="1" stop-color="rgb(122,122,122)" stop-opacity="0"/></radialGradient>
<radialGradient id="g3_25"><stop offset="0" stop-color="rgb(117,117,117)" stop-opacity="1.00"/><stop offset="0.30" stop-color="rgb(117,117,117)" stop-opacity="1.00"/><stop offset="0.65" stop-color="rgb(117,117,117)" stop-opacity="0.45"/><stop offset="1" stop-color="rgb(117,117,117)" stop-opacity="0"/></radialGradient>
<radialGradient id="g3_26"><stop offset="0" stop-color="rgb(127,127,127)" stop-opacity="1.00"/><stop offset="0.40" stop-color="rgb(127,127,127)" stop-opacity="1.00"/><stop offset="0.70" stop-color="rgb(127,127,127)" stop-opacity="0.45"/><stop offset="1" stop-color="rgb(127,127,127)" stop-opacity="0"/></radialGradient>
<radialGradient id="g3_27"><stop offset="0" stop-color="rgb(127,127,127)" stop-opacity="1.00"/><stop offset="0.30" stop-color="rgb(127,127,127)" stop-opacity="1.00"/><stop offset="0.65" stop-color="rgb(127,127,127)" stop-opacity="0.45"/><stop offset="1" stop-color="rgb(127,127,127)" stop-opacity="0"/></radialGradient>
<radialGradient id="g3_28"><stop offset="0" stop-color="rgb(132,132,132)" stop-opacity="1.00"/><stop offset="0.30" stop-color="rgb(132,132,132)" stop-opacity="1.00"/><stop offset="0.65" stop-color="rgb(132,132,132)" stop-opacity="0.45"/><stop offset="1" stop-color="rgb(132,132,132)" stop-opacity="0"/></radialGradient>
<radialGradient id="g3_29"><stop offset="0" stop-color="rgb(153,153,153)" stop-opacity="1.00"/><stop offset="0.40" stop-color="rgb(153,153,153)" stop-opacity="1.00"/><stop offset="0.70" stop-color="rgb(153,153,153)" stop-opacity="0.45"/><stop offset="1" stop-color="rgb(153,153,153)" stop-opacity="0"/></radialGradient>
<radialGradient id="g3_30"><stop offset="0" stop-color="rgb(127,127,127)" stop-opacity="1.00"/><stop offset="0.40" stop-color="rgb(127,127,127)" stop-opacity="1.00"/><stop offset="0.70" stop-color="rgb(127,127,127)" stop-opacity="0.45"/><stop offset="1" stop-color="rgb(127,127,127)" stop-opacity="0"/></radialGradient>
<radialGradient id="g3_31"><stop offset="0" stop-color="rgb(158,158,158)" stop-opacity="1.00"/><stop offset="0.40" stop-color="rgb(158,158,158)" stop-opacity="1.00"/><stop offset="0.70" stop-color="rgb(158,158,158)" stop-opacity="0.45"/><stop offset="1" stop-color="rgb(158,158,158)" stop-opacity="0"/></radialGradient>
<radialGradient id="g3_32"><stop offset="0" stop-color="rgb(127,127,127)" stop-opacity="1.00"/><stop offset="0.40" stop-color="rgb(127,127,127)" stop-opacity="1.00"/><stop offset="0.70" stop-color="rgb(127,127,127)" stop-opacity="0.45"/><stop offset="1" stop-color="rgb(127,127,127)" stop-opacity="0"/></radialGradient>
<radialGradient id="g3_33"><stop offset="0" stop-color="rgb(153,153,153)" stop-opacity="1.00"/><stop offset="0.40" stop-color="rgb(153,153,153)" stop-opacity="1.00"/><stop offset="0.70" stop-color="rgb(153,153,153)" stop-opacity="0.45"/><stop offset="1" stop-color="rgb(153,153,153)" stop-opacity="0"/></radialGradient>
<radialGradient id="g3_34"><stop offset="0" stop-color="rgb(127,127,127)" stop-opacity="0.90"/><stop offset="0.55" stop-color="rgb(127,127,127)" stop-opacity="0.90"/><stop offset="0.78" stop-color="rgb(127,127,127)" stop-opacity="0.41"/><stop offset="1" stop-color="rgb(127,127,127)" stop-opacity="0"/></radialGradient>
<radialGradient id="g3_35"><stop offset="0" stop-color="rgb(255,255,255)" stop-opacity="1.00"/><stop offset="0.50" stop-color="rgb(255,255,255)" stop-opacity="1.00"/><stop offset="0.75" stop-color="rgb(255,255,255)" stop-opacity="0.45"/><stop offset="1" stop-color="rgb(255,255,255)" stop-opacity="0"/></radialGradient>
<radialGradient id="g3_36"><stop offset="0" stop-color="rgb(107,107,107)" stop-opacity="1.00"/><stop offset="0.38" stop-color="rgb(107,107,107)" stop-opacity="1.00"/><stop offset="0.69" stop-color="rgb(107,107,107)" stop-opacity="0.45"/><stop offset="1" stop-color="rgb(107,107,107)" stop-opacity="0"/></radialGradient>
<radialGradient id="g3_37"><stop offset="0" stop-color="rgb(127,127,127)" stop-opacity="0.90"/><stop offset="0.55" stop-color="rgb(127,127,127)" stop-opacity="0.90"/><stop offset="0.78" stop-color="rgb(127,127,127)" stop-opacity="0.41"/><stop offset="1" stop-color="rgb(127,127,127)" stop-opacity="0"/></radialGradient>
<radialGradient id="g3_38"><stop offset="0" stop-color="rgb(255,255,255)" stop-opacity="1.00"/><stop offset="0.55" stop-color="rgb(255,255,255)" stop-opacity="1.00"/><stop offset="0.78" stop-color="rgb(255,255,255)" stop-opacity="0.45"/><stop offset="1" stop-color="rgb(255,255,255)" stop-opacity="0"/></radialGradient>
<radialGradient id="g3_39"><stop offset="0" stop-color="rgb(114,114,114)" stop-opacity="1.00"/><stop offset="0.38" stop-color="rgb(114,114,114)" stop-opacity="1.00"/><stop offset="0.69" stop-color="rgb(114,114,114)" stop-opacity="0.45"/><stop offset="1" stop-color="rgb(114,114,114)" stop-opacity="0"/></radialGradient>
<radialGradient id="g3_40"><stop offset="0" stop-color="rgb(127,127,127)" stop-opacity="0.90"/><stop offset="0.50" stop-color="rgb(127,127,127)" stop-opacity="0.90"/><stop offset="0.75" stop-color="rgb(127,127,127)" stop-opacity="0.41"/><stop offset="1" stop-color="rgb(127,127,127)" stop-opacity="0"/></radialGradient>
<radialGradient id="g3_41"><stop offset="0" stop-color="rgb(234,234,234)" stop-opacity="1.00"/><stop offset="0.42" stop-color="rgb(234,234,234)" stop-opacity="1.00"/><stop offset="0.71" stop-color="rgb(234,234,234)" stop-opacity="0.45"/><stop offset="1" stop-color="rgb(234,234,234)" stop-opacity="0"/></radialGradient>
<radialGradient id="g3_42"><stop offset="0" stop-color="rgb(234,234,234)" stop-opacity="1.00"/><stop offset="0.40" stop-color="rgb(234,234,234)" stop-opacity="1.00"/><stop offset="0.70" stop-color="rgb(234,234,234)" stop-opacity="0.45"/><stop offset="1" stop-color="rgb(234,234,234)" stop-opacity="0"/></radialGradient>
<radialGradient id="g3_43"><stop offset="0" stop-color="rgb(127,127,127)" stop-opacity="0.90"/><stop offset="0.55" stop-color="rgb(127,127,127)" stop-opacity="0.90"/><stop offset="0.78" stop-color="rgb(127,127,127)" stop-opacity="0.41"/><stop offset="1" stop-color="rgb(127,127,127)" stop-opacity="0"/></radialGradient>
<radialGradient id="g3_44"><stop offset="0" stop-color="rgb(255,255,255)" stop-opacity="1.00"/><stop offset="0.50" stop-color="rgb(255,255,255)" stop-opacity="1.00"/><stop offset="0.75" stop-color="rgb(255,255,255)" stop-opacity="0.45"/><stop offset="1" stop-color="rgb(255,255,255)" stop-opacity="0"/></radialGradient>
<radialGradient id="sP" cx="0.5" cy="0.5" r="0.5" fx="0.46" fy="0.44"><stop offset="0" stop-color="#ffffff"/><stop offset="0.25" stop-color="#f6f0f8"/><stop offset="0.7" stop-color="#dccbe1"/><stop offset="1" stop-color="#bfadc6"/></radialGradient>
<radialGradient id="sCo" cx="0.5" cy="0.5" r="0.5" fx="0.45" fy="0.42"><stop offset="0" stop-color="#ffffff"/><stop offset="0.1" stop-color="#c4caff"/><stop offset="0.32" stop-color="#4452c6"/><stop offset="0.82" stop-color="#4452c6"/><stop offset="1" stop-color="#2b369e"/></radialGradient>
<radialGradient id="sFe" cx="0.5" cy="0.5" r="0.5" fx="0.45" fy="0.42"><stop offset="0" stop-color="#ffffff"/><stop offset="0.1" stop-color="#fff0c0"/><stop offset="0.32" stop-color="#d8a440"/><stop offset="0.82" stop-color="#d8a440"/><stop offset="1" stop-color="#b07f26"/></radialGradient>
<radialGradient id="sO" cx="0.5" cy="0.5" r="0.5" fx="0.45" fy="0.42"><stop offset="0" stop-color="#ffffff"/><stop offset="0.1" stop-color="#ffd0d0"/><stop offset="0.32" stop-color="#f05656"/><stop offset="0.82" stop-color="#f05656"/><stop offset="1" stop-color="#d03c3c"/></radialGradient>
<radialGradient id="cP" cx="0.5" cy="0.5" r="0.5" fx="0.42" fy="0.38"><stop offset="0" stop-color="#ffffff"/><stop offset="0.18" stop-color="#e6dbe8"/><stop offset="0.6" stop-color="#c4b0c7"/><stop offset="1" stop-color="#8f7c94"/></radialGradient>
<radialGradient id="cCo" cx="0.5" cy="0.5" r="0.5" fx="0.42" fy="0.38"><stop offset="0" stop-color="#b8c0ff"/><stop offset="0.2" stop-color="#3f50d0"/><stop offset="0.7" stop-color="#2733a8"/><stop offset="1" stop-color="#141a66"/></radialGradient>
<radialGradient id="cOl" cx="0.5" cy="0.5" r="0.5" fx="0.42" fy="0.38"><stop offset="0" stop-color="#c9c99a"/><stop offset="0.25" stop-color="#97975a"/><stop offset="0.8" stop-color="#7e7e48"/><stop offset="1" stop-color="#6a6a3a"/></radialGradient>
<radialGradient id="cFe" cx="0.5" cy="0.5" r="0.5" fx="0.42" fy="0.38"><stop offset="0" stop-color="#fff6a0"/><stop offset="0.25" stop-color="#f0dc20"/><stop offset="0.8" stop-color="#d2be18"/><stop offset="1" stop-color="#a89410"/></radialGradient>
<radialGradient id="cO" cx="0.5" cy="0.5" r="0.5" fx="0.42" fy="0.38"><stop offset="0" stop-color="#ffb0a0"/><stop offset="0.3" stop-color="#ee3030"/><stop offset="1" stop-color="#a81818"/></radialGradient>
<radialGradient id="cOo" cx="0.5" cy="0.5" r="0.5" fx="0.42" fy="0.38"><stop offset="0" stop-color="#ffd890"/><stop offset="0.3" stop-color="#f59a20"/><stop offset="1" stop-color="#c06a10"/></radialGradient>
<clipPath id="ccell"><polygon points="396.4,374.7 610.6,374.7 636.6,556.8 422,556.8"/></clipPath>
<linearGradient id="cbar2" x1="0" y1="0" x2="0" y2="1">
  <stop offset="0" stop-color="#f00"/><stop offset="0.08" stop-color="#f00"/>
  <stop offset="0.27" stop-color="#ff0"/>
  <stop offset="0.42" stop-color="#0f0"/><stop offset="0.55" stop-color="#0f0"/>
  <stop offset="0.78" stop-color="#0ff"/>
  <stop offset="0.97" stop-color="#00f"/><stop offset="1" stop-color="#00f"/>
</linearGradient>
<clipPath id="hc4"><polygon points="752.9,367.6 995.5,365.8 1036.4,575.7 794.5,577.5"/></clipPath>
<radialGradient id="g4_0"><stop offset="0" stop-color="rgb(255,255,255)" stop-opacity="1.00"/><stop offset="0.50" stop-color="rgb(255,255,255)" stop-opacity="1.00"/><stop offset="0.75" stop-color="rgb(255,255,255)" stop-opacity="0.45"/><stop offset="1" stop-color="rgb(255,255,255)" stop-opacity="0"/></radialGradient>
<radialGradient id="g4_1"><stop offset="0" stop-color="rgb(255,255,255)" stop-opacity="1.00"/><stop offset="0.50" stop-color="rgb(255,255,255)" stop-opacity="1.00"/><stop offset="0.75" stop-color="rgb(255,255,255)" stop-opacity="0.45"/><stop offset="1" stop-color="rgb(255,255,255)" stop-opacity="0"/></radialGradient>
<radialGradient id="g4_6"><stop offset="0" stop-color="rgb(255,255,255)" stop-opacity="1.00"/><stop offset="0.50" stop-color="rgb(255,255,255)" stop-opacity="1.00"/><stop offset="0.75" stop-color="rgb(255,255,255)" stop-opacity="0.45"/><stop offset="1" stop-color="rgb(255,255,255)" stop-opacity="0"/></radialGradient>
<radialGradient id="g4_7"><stop offset="0" stop-color="rgb(204,204,204)" stop-opacity="1.00"/><stop offset="0.40" stop-color="rgb(204,204,204)" stop-opacity="1.00"/><stop offset="0.70" stop-color="rgb(204,204,204)" stop-opacity="0.45"/><stop offset="1" stop-color="rgb(204,204,204)" stop-opacity="0"/></radialGradient>
<clipPath id="fclip"><rect x="407.3" y="606.3" width="271.7" height="239.9"/></clipPath>
<clipPath id="gclip"><rect x="751.3" y="605.7" width="274.0" height="241.4"/></clipPath>
</defs>
<rect width="1040" height="904" fill="#fff"/>
<text x="13.7" y="19.8" font-size="31">a</text>
<rect x="20" y="42.5" width="13.2" height="223" fill="url(#cbar)" stroke="#333" stroke-width="0.4"/>
<line x1="33.2" x2="36.5" y1="42.5" y2="42.5" stroke="#222" stroke-width="0.6"/>
<line x1="33.2" x2="36.5" y1="64.8" y2="64.8" stroke="#222" stroke-width="0.6"/>
<line x1="33.2" x2="36.5" y1="87.1" y2="87.1" stroke="#222" stroke-width="0.6"/>
<line x1="33.2" x2="36.5" y1="109.4" y2="109.4" stroke="#222" stroke-width="0.6"/>
<line x1="33.2" x2="36.5" y1="131.7" y2="131.7" stroke="#222" stroke-width="0.6"/>
<line x1="33.2" x2="36.5" y1="154.0" y2="154.0" stroke="#222" stroke-width="0.6"/>
<line x1="33.2" x2="36.5" y1="176.3" y2="176.3" stroke="#222" stroke-width="0.6"/>
<line x1="33.2" x2="36.5" y1="198.6" y2="198.6" stroke="#222" stroke-width="0.6"/>
<line x1="33.2" x2="36.5" y1="220.9" y2="220.9" stroke="#222" stroke-width="0.6"/>
<line x1="33.2" x2="36.5" y1="243.2" y2="243.2" stroke="#222" stroke-width="0.6"/>
<line x1="33.2" x2="36.5" y1="265.5" y2="265.5" stroke="#222" stroke-width="0.6"/>
<text x="43.3" y="59.8" font-size="18.3">0.8</text>
<text x="42.8" y="268.6" font-size="18.3">0.0</text>
<text x="208" y="292" font-size="19.2">CoP</text>
<text x="524.3" y="291.9" font-size="19.2">Fe-CoP</text>
<text x="849.3" y="291.9" font-size="19.2">Fe/O-CoP</text>
<g clip-path="url(#hc1)"><g filter="url(#jet)">
<rect x="80" y="34" width="318" height="232" fill="rgb(86,86,86)"/>
<circle cx="200.0" cy="110.0" r="100.0" fill="url(#g1_0)"/>
<circle cx="190.0" cy="215.0" r="70.0" fill="url(#g1_1)"/>
<circle cx="290.0" cy="100.0" r="50.0" fill="url(#g1_2)"/>
<circle cx="345.0" cy="232.0" r="80.0" fill="url(#g1_3)" transform="translate(345.0 232.0) rotate(12) scale(1.35 0.75) translate(-345.0 -232.0)"/>
<circle cx="300.0" cy="240.0" r="50.0" fill="url(#g1_4)" transform="translate(300.0 240.0) rotate(0) scale(1.30 0.70) translate(-300.0 -240.0)"/>
<circle cx="318.0" cy="176.0" r="30.0" fill="url(#g1_5)" transform="translate(318.0 176.0) rotate(-20) scale(1.00 1.40) translate(-318.0 -176.0)"/>
<circle cx="372.0" cy="192.0" r="32.0" fill="url(#g1_6)" transform="translate(372.0 192.0) rotate(15) scale(1.00 1.30) translate(-372.0 -192.0)"/>
<circle cx="300.0" cy="205.0" r="30.0" fill="url(#g1_7)" transform="translate(300.0 205.0) rotate(25) scale(1.30 0.80) translate(-300.0 -205.0)"/>
<circle cx="370.0" cy="245.0" r="30.0" fill="url(#g1_8)" transform="translate(370.0 245.0) rotate(0) scale(1.00 0.80) translate(-370.0 -245.0)"/>
<circle cx="332.0" cy="226.0" r="20.0" fill="url(#g1_9)"/>
<circle cx="244.6" cy="129.0" r="27.0" fill="url(#g1_10)"/>
<circle cx="245.0" cy="68.5" r="26.0" fill="url(#g1_11)" transform="translate(245.0 68.5) rotate(0) scale(0.95 1.00) translate(-245.0 -68.5)"/>
<circle cx="334.0" cy="103.0" r="24.0" fill="url(#g1_12)" transform="translate(334.0 103.0) rotate(0) scale(0.88 1.08) translate(-334.0 -103.0)"/>
<circle cx="342.0" cy="50.0" r="24.0" fill="url(#g1_13)" transform="translate(342.0 50.0) rotate(20) scale(1.20 0.80) translate(-342.0 -50.0)"/>
<circle cx="301.5" cy="67.0" r="18.0" fill="url(#g1_14)" transform="translate(301.5 67.0) rotate(0) scale(1.25 0.85) translate(-301.5 -67.0)"/>
<circle cx="237.0" cy="216.5" r="27.0" fill="url(#g1_15)"/>
<circle cx="151.0" cy="161.0" r="26.0" fill="url(#g1_16)" transform="translate(151.0 161.0) rotate(5) scale(0.90 0.62) translate(-151.0 -161.0)"/>
<circle cx="180.0" cy="206.0" r="14.0" fill="url(#g1_17)" transform="translate(180.0 206.0) rotate(-20) scale(0.80 1.20) translate(-180.0 -206.0)"/>
<circle cx="142.0" cy="252.0" r="18.0" fill="url(#g1_18)"/>
<circle cx="105.0" cy="112.0" r="14.0" fill="url(#g1_19)" transform="translate(105.0 112.0) rotate(12) scale(0.60 1.40) translate(-105.0 -112.0)"/>
<circle cx="110.0" cy="60.0" r="24.0" fill="url(#g1_20)"/>
<circle cx="178.0" cy="125.0" r="14.0" fill="url(#g1_21)"/>
<circle cx="143.0" cy="89.0" r="16.0" fill="url(#g1_22)"/>
<circle cx="165.0" cy="185.0" r="10.0" fill="url(#g1_23)"/>
<circle cx="250.0" cy="170.0" r="8.0" fill="url(#g1_24)"/>
<circle cx="337.0" cy="152.0" r="28.0" fill="url(#g1_25)"/>
<circle cx="201.0" cy="94.5" r="36.0" fill="url(#g1_26)"/>
<circle cx="200.5" cy="94.5" r="20.5" fill="url(#g1_27)"/>
<circle cx="205.0" cy="170.0" r="31.0" fill="url(#g1_28)"/>
<circle cx="204.0" cy="171.0" r="24.0" fill="url(#g1_29)"/>
<circle cx="269.5" cy="180.5" r="38.0" fill="url(#g1_30)" transform="translate(269.5 180.5) rotate(0) scale(0.95 1.08) translate(-269.5 -180.5)"/>
<circle cx="266.0" cy="178.5" r="20.5" fill="url(#g1_31)"/>
<circle cx="285.5" cy="104.5" r="33.0" fill="url(#g1_32)" transform="translate(285.5 104.5) rotate(0) scale(1.00 1.02) translate(-285.5 -104.5)"/>
<circle cx="284.0" cy="101.0" r="12.0" fill="url(#g1_33)"/>
<circle cx="153.5" cy="49.0" r="30.0" fill="url(#g1_34)"/>
<circle cx="152.5" cy="46.5" r="21.0" fill="url(#g1_35)" transform="translate(152.5 46.5) rotate(0) scale(1.40 0.80) translate(-152.5 -46.5)"/>
<circle cx="138.5" cy="122.5" r="22.0" fill="url(#g1_36)" transform="translate(138.5 122.5) rotate(0) scale(0.95 1.15) translate(-138.5 -122.5)"/>
<circle cx="142.0" cy="204.0" r="25.0" fill="url(#g1_37)" transform="translate(142.0 204.0) rotate(0) scale(1.00 1.05) translate(-142.0 -204.0)"/>
<circle cx="190.0" cy="250.0" r="33.0" fill="url(#g1_38)"/>
<circle cx="186.0" cy="250.0" r="19.0" fill="url(#g1_39)" transform="translate(186.0 250.0) rotate(0) scale(0.80 1.30) translate(-186.0 -250.0)"/>
<circle cx="277.0" cy="44.0" r="18.0" fill="url(#g1_40)" transform="translate(277.0 44.0) rotate(0) scale(1.30 0.60) translate(-277.0 -44.0)"/>
<circle cx="225.0" cy="42.0" r="12.0" fill="url(#g1_41)" transform="translate(225.0 42.0) rotate(0) scale(1.50 0.60) translate(-225.0 -42.0)"/>
</g></g>
<polygon points="90.0,44.0 342.0,46.0 388.0,256.0 138.0,255.0" fill="none" stroke="#000" stroke-width="0.8"/>
<text x="234.5" y="136.3" font-size="19.3" fill="#fff">Co</text>
<text x="201.5" y="177.0" font-size="19.3" fill="#000">P</text>
<text x="226.5" y="222.3" font-size="19.3" fill="#fff">Co</text>
<g clip-path="url(#hc2)"><g filter="url(#jet)">
<rect x="402" y="30" width="308" height="233" fill="rgb(86,86,86)"/>
<circle cx="535.0" cy="120.0" r="85.0" fill="url(#g2_0)"/>
<circle cx="515.0" cy="215.0" r="65.0" fill="url(#g2_1)"/>
<circle cx="610.0" cy="100.0" r="50.0" fill="url(#g2_2)"/>
<circle cx="662.0" cy="232.0" r="80.0" fill="url(#g2_3)" transform="translate(662.0 232.0) rotate(12) scale(1.35 0.72) translate(-662.0 -232.0)"/>
<circle cx="615.0" cy="240.0" r="50.0" fill="url(#g2_4)" transform="translate(615.0 240.0) rotate(0) scale(1.30 0.70) translate(-615.0 -240.0)"/>
<circle cx="619.0" cy="156.0" r="26.0" fill="url(#g2_5)" transform="translate(619.0 156.0) rotate(-10) scale(1.00 1.30) translate(-619.0 -156.0)"/>
<circle cx="690.0" cy="200.0" r="28.0" fill="url(#g2_6)" transform="translate(690.0 200.0) rotate(15) scale(1.00 1.30) translate(-690.0 -200.0)"/>
<circle cx="620.0" cy="205.0" r="28.0" fill="url(#g2_7)" transform="translate(620.0 205.0) rotate(25) scale(1.30 0.80) translate(-620.0 -205.0)"/>
<circle cx="690.0" cy="235.0" r="28.0" fill="url(#g2_8)" transform="translate(690.0 235.0) rotate(10) scale(0.80 1.20) translate(-690.0 -235.0)"/>
<circle cx="646.0" cy="224.0" r="22.0" fill="url(#g2_9)" transform="translate(646.0 224.0) rotate(0) scale(1.20 1.00) translate(-646.0 -224.0)"/>
<circle cx="558.5" cy="125.4" r="27.0" fill="url(#g2_10)"/>
<circle cx="563.0" cy="64.0" r="25.0" fill="url(#g2_11)" transform="translate(563.0 64.0) rotate(0) scale(1.00 0.95) translate(-563.0 -64.0)"/>
<circle cx="652.0" cy="99.0" r="26.0" fill="url(#g2_12)" transform="translate(652.0 99.0) rotate(0) scale(0.95 1.10) translate(-652.0 -99.0)"/>
<circle cx="655.0" cy="44.0" r="22.0" fill="url(#g2_13)" transform="translate(655.0 44.0) rotate(15) scale(1.20 0.70) translate(-655.0 -44.0)"/>
<circle cx="617.0" cy="62.0" r="18.0" fill="url(#g2_14)" transform="translate(617.0 62.0) rotate(0) scale(1.15 0.90) translate(-617.0 -62.0)"/>
<circle cx="547.7" cy="214.6" r="26.0" fill="url(#g2_15)"/>
<circle cx="466.0" cy="154.6" r="27.0" fill="url(#g2_16)" transform="translate(466.0 154.6) rotate(0) scale(1.00 0.95) translate(-466.0 -154.6)"/>
<circle cx="466.0" cy="87.0" r="18.0" fill="url(#g2_17)"/>
<circle cx="490.8" cy="200.8" r="15.0" fill="url(#g2_18)" transform="translate(490.8 200.8) rotate(0) scale(0.90 1.10) translate(-490.8 -200.8)"/>
<circle cx="459.0" cy="249.0" r="18.0" fill="url(#g2_19)"/>
<circle cx="414.0" cy="42.0" r="14.0" fill="url(#g2_20)"/>
<circle cx="446.0" cy="61.0" r="14.0" fill="url(#g2_21)"/>
<circle cx="504.0" cy="51.0" r="12.0" fill="url(#g2_22)"/>
<circle cx="496.0" cy="121.0" r="16.0" fill="url(#g2_23)"/>
<circle cx="427.0" cy="115.0" r="12.0" fill="url(#g2_24)"/>
<circle cx="440.0" cy="44.0" r="20.0" fill="url(#g2_25)" transform="translate(440.0 44.0) rotate(0) scale(1.60 0.50) translate(-440.0 -44.0)"/>
<circle cx="458.5" cy="117.7" r="15.0" fill="url(#g2_26)" transform="translate(458.5 117.7) rotate(0) scale(1.10 0.90) translate(-458.5 -117.7)"/>
<circle cx="596.0" cy="43.0" r="18.0" fill="url(#g2_27)" transform="translate(596.0 43.0) rotate(0) scale(1.50 0.70) translate(-596.0 -43.0)"/>
<circle cx="653.0" cy="150.5" r="32.0" fill="url(#g2_28)"/>
<circle cx="518.5" cy="90.0" r="35.0" fill="url(#g2_29)"/>
<circle cx="518.0" cy="90.5" r="21.5" fill="url(#g2_30)" transform="translate(518.0 90.5) rotate(0) scale(0.95 1.05) translate(-518.0 -90.5)"/>
<circle cx="520.0" cy="165.4" r="31.0" fill="url(#g2_31)" transform="translate(520.0 165.4) rotate(0) scale(1.00 1.05) translate(-520.0 -165.4)"/>
<circle cx="523.0" cy="165.5" r="21.0" fill="url(#g2_32)"/>
<circle cx="588.0" cy="176.5" r="37.5" fill="url(#g2_33)" transform="translate(588.0 176.5) rotate(0) scale(0.97 1.05) translate(-588.0 -176.5)"/>
<circle cx="583.5" cy="173.5" r="20.5" fill="url(#g2_34)"/>
<circle cx="603.0" cy="101.0" r="31.5" fill="url(#g2_35)"/>
<circle cx="601.0" cy="93.0" r="11.0" fill="url(#g2_36)"/>
<circle cx="472.3" cy="52.5" r="22.0" fill="url(#g2_37)" transform="translate(472.3 52.5) rotate(0) scale(1.15 0.95) translate(-472.3 -52.5)"/>
<circle cx="422.0" cy="76.0" r="25.0" fill="url(#g2_38)" transform="translate(422.0 76.0) rotate(8) scale(0.80 1.25) translate(-422.0 -76.0)"/>
<circle cx="460.0" cy="197.7" r="20.0" fill="url(#g2_39)" transform="translate(460.0 197.7) rotate(0) scale(0.80 1.05) translate(-460.0 -197.7)"/>
<circle cx="507.7" cy="238.0" r="34.0" fill="url(#g2_40)" transform="translate(507.7 238.0) rotate(0) scale(1.05 0.85) translate(-507.7 -238.0)"/>
</g></g>
<polygon points="412.3,40.2 657.8,41.4 701.0,253.3 455.4,252.7" fill="none" stroke="#000" stroke-width="0.8"/>
<text x="547.5" y="131.3" font-size="19.3" fill="#fff">Fe</text>
<text x="510.5" y="172.3" font-size="19.3" fill="#000">P</text>
<text x="536.5" y="222.6" font-size="19.3" fill="#fff">Co</text>
<g clip-path="url(#hc3)"><g filter="url(#jet)">
<rect x="724" y="29" width="299" height="234" fill="rgb(54,54,54)"/>
<circle cx="840.0" cy="95.0" r="55.0" fill="url(#g3_0)"/>
<circle cx="905.0" cy="180.0" r="55.0" fill="url(#g3_1)"/>
<circle cx="825.0" cy="230.0" r="50.0" fill="url(#g3_2)"/>
<circle cx="975.0" cy="150.0" r="40.0" fill="url(#g3_3)"/>
<circle cx="760.0" cy="90.0" r="40.0" fill="url(#g3_4)"/>
<circle cx="805.0" cy="85.0" r="90.0" fill="url(#g3_5)" transform="translate(805.0 85.0) rotate(0) scale(1.00 0.85) translate(-805.0 -85.0)"/>
<circle cx="835.0" cy="160.0" r="30.0" fill="url(#g3_6)" transform="translate(835.0 160.0) rotate(-40) scale(0.60 1.80) translate(-835.0 -160.0)"/>
<circle cx="935.0" cy="140.0" r="22.0" fill="url(#g3_7)" transform="translate(935.0 140.0) rotate(-10) scale(0.60 1.80) translate(-935.0 -140.0)"/>
<circle cx="892.0" cy="232.0" r="22.0" fill="url(#g3_8)" transform="translate(892.0 232.0) rotate(0) scale(1.50 0.80) translate(-892.0 -232.0)"/>
<circle cx="905.0" cy="65.0" r="22.0" fill="url(#g3_9)" transform="translate(905.0 65.0) rotate(0) scale(1.60 0.70) translate(-905.0 -65.0)"/>
<circle cx="886.0" cy="119.0" r="26.0" fill="url(#g3_10)"/>
<circle cx="880.0" cy="61.0" r="22.0" fill="url(#g3_11)" transform="translate(880.0 61.0) rotate(0) scale(0.90 1.10) translate(-880.0 -61.0)"/>
<circle cx="957.0" cy="102.0" r="25.0" fill="url(#g3_12)" transform="translate(957.0 102.0) rotate(0) scale(1.05 0.95) translate(-957.0 -102.0)"/>
<circle cx="852.0" cy="190.0" r="25.0" fill="url(#g3_13)" transform="translate(852.0 190.0) rotate(0) scale(1.05 0.95) translate(-852.0 -190.0)"/>
<circle cx="786.0" cy="154.6" r="26.0" fill="url(#g3_14)" transform="translate(786.0 154.6) rotate(0) scale(1.05 0.95) translate(-786.0 -154.6)"/>
<circle cx="786.0" cy="80.8" r="25.0" fill="url(#g3_15)"/>
<circle cx="776.0" cy="246.0" r="18.0" fill="url(#g3_16)"/>
<circle cx="1004.0" cy="215.0" r="30.0" fill="url(#g3_17)" transform="translate(1004.0 215.0) rotate(10) scale(0.70 1.60) translate(-1004.0 -215.0)"/>
<circle cx="985.0" cy="252.0" r="20.0" fill="url(#g3_18)" transform="translate(985.0 252.0) rotate(0) scale(1.50 0.60) translate(-985.0 -252.0)"/>
<circle cx="975.0" cy="48.0" r="16.0" fill="url(#g3_19)" transform="translate(975.0 48.0) rotate(20) scale(1.20 0.70) translate(-975.0 -48.0)"/>
<circle cx="738.0" cy="42.0" r="10.0" fill="url(#g3_20)"/>
<circle cx="829.0" cy="47.0" r="14.0" fill="url(#g3_21)" transform="translate(829.0 47.0) rotate(0) scale(1.30 0.80) translate(-829.0 -47.0)"/>
<circle cx="754.0" cy="116.0" r="13.0" fill="url(#g3_22)"/>
<circle cx="795.0" cy="50.0" r="19.0" fill="url(#g3_23)" transform="translate(795.0 50.0) rotate(0) scale(1.00 0.85) translate(-795.0 -50.0)"/>
<circle cx="781.0" cy="118.0" r="18.0" fill="url(#g3_24)" transform="translate(781.0 118.0) rotate(0) scale(0.90 1.10) translate(-781.0 -118.0)"/>
<circle cx="777.0" cy="196.0" r="14.0" fill="url(#g3_25)" transform="translate(777.0 196.0) rotate(0) scale(0.80 1.20) translate(-777.0 -196.0)"/>
<circle cx="917.0" cy="93.0" r="18.0" fill="url(#g3_26)"/>
<circle cx="963.0" cy="70.0" r="15.0" fill="url(#g3_27)" transform="translate(963.0 70.0) rotate(30) scale(1.40 0.70) translate(-963.0 -70.0)"/>
<circle cx="929.0" cy="43.0" r="14.0" fill="url(#g3_28)" transform="translate(929.0 43.0) rotate(0) scale(1.60 0.60) translate(-929.0 -43.0)"/>
<circle cx="755.0" cy="148.5" r="10.0" fill="url(#g3_29)" transform="translate(755.0 148.5) rotate(8) scale(0.70 1.30) translate(-755.0 -148.5)"/>
<circle cx="821.5" cy="171.5" r="23.0" fill="url(#g3_30)"/>
<circle cx="821.5" cy="171.5" r="11.0" fill="url(#g3_31)"/>
<circle cx="961.5" cy="227.0" r="28.0" fill="url(#g3_32)" transform="translate(961.5 227.0) rotate(0) scale(1.00 0.95) translate(-961.5 -227.0)"/>
<circle cx="961.0" cy="228.0" r="13.0" fill="url(#g3_33)"/>
<circle cx="840.0" cy="92.0" r="46.0" fill="url(#g3_34)"/>
<circle cx="840.0" cy="91.5" r="33.0" fill="url(#g3_35)"/>
<circle cx="840.0" cy="90.0" r="20.5" fill="url(#g3_36)" transform="translate(840.0 90.0) rotate(0) scale(0.82 1.12) translate(-840.0 -90.0)"/>
<circle cx="905.0" cy="178.0" r="50.0" fill="url(#g3_37)"/>
<circle cx="905.0" cy="178.0" r="35.5" fill="url(#g3_38)"/>
<circle cx="898.0" cy="175.0" r="23.5" fill="url(#g3_39)" transform="translate(898.0 175.0) rotate(0) scale(0.90 1.10) translate(-898.0 -175.0)"/>
<circle cx="976.0" cy="150.0" r="38.0" fill="url(#g3_40)"/>
<circle cx="976.0" cy="150.0" r="26.5" fill="url(#g3_41)"/>
<circle cx="746.0" cy="77.0" r="23.5" fill="url(#g3_42)" transform="translate(746.0 77.0) rotate(8) scale(0.75 1.25) translate(-746.0 -77.0)"/>
<circle cx="824.6" cy="238.0" r="48.0" fill="url(#g3_43)" transform="translate(824.6 238.0) rotate(0) scale(1.10 0.85) translate(-824.6 -238.0)"/>
<circle cx="826.0" cy="239.0" r="34.0" fill="url(#g3_44)" transform="translate(826.0 239.0) rotate(0) scale(1.08 0.88) translate(-826.0 -239.0)"/>
</g></g>
<polygon points="734.8,39.2 977.8,42.3 1013.8,254.0 770.8,251.5" fill="none" stroke="#000" stroke-width="0.8"/>
<text x="874.3" y="125.2" font-size="19.3" fill="#fff">Fe</text>
<text x="908.3" y="100.0" font-size="19.3" fill="#fff">O</text>
<text x="814.8" y="179.5" font-size="19.3" fill="#000">O</text>
<text x="838.7" y="199.5" font-size="19.3" fill="#fff">Co</text>
<text x="898.5" y="179.5" font-size="19.3" fill="#000">P</text>
<text x="13.7" y="336.2" font-size="31">b</text>
<line x1="49.0" y1="472.0" x2="91.0" y2="468.1" stroke="#d9cbdf" stroke-width="5.5"/><line x1="91.0" y1="468.1" x2="125.4" y2="465.0" stroke="#3b4cc6" stroke-width="5.5"/>
<line x1="125.4" y1="465.0" x2="124.8" y2="434.1" stroke="#3b4cc6" stroke-width="5.5"/><line x1="124.8" y1="434.1" x2="124.4" y2="411.8" stroke="#ee5353" stroke-width="5.5"/>
<line x1="125.4" y1="465.0" x2="157.6" y2="482.4" stroke="#3b4cc6" stroke-width="5.5"/><line x1="157.6" y1="482.4" x2="184.0" y2="496.7" stroke="#d9cbdf" stroke-width="5.5"/>
<line x1="184.0" y1="496.7" x2="203.8" y2="482.4" stroke="#d9cbdf" stroke-width="5.5"/><line x1="203.8" y1="482.4" x2="228.0" y2="465.0" stroke="#d3a044" stroke-width="5.5"/>
<line x1="228.0" y1="465.0" x2="226.8" y2="438.0" stroke="#d3a044" stroke-width="5.5"/><line x1="226.8" y1="438.0" x2="226.0" y2="420.0" stroke="#d9cbdf" stroke-width="5.5"/>
<line x1="228.0" y1="465.0" x2="262.5" y2="458.2" stroke="#d3a044" stroke-width="5.5"/><line x1="262.5" y1="458.2" x2="283.6" y2="454.0" stroke="#ee5353" stroke-width="5.5"/>
<circle cx="49.0" cy="472.0" r="14.5" fill="url(#sP)"/>
<circle cx="226.0" cy="420.0" r="14.3" fill="url(#sP)"/>
<circle cx="184.0" cy="496.7" r="14.8" fill="url(#sP)"/>
<circle cx="125.4" cy="465.0" r="16.3" fill="url(#sCo)"/>
<circle cx="228.0" cy="465.0" r="16.3" fill="url(#sFe)"/>
<circle cx="124.4" cy="411.8" r="9.5" fill="url(#sO)"/>
<circle cx="283.6" cy="454.0" r="9.5" fill="url(#sO)"/>
<text x="56.5" y="414.6" font-size="20.3" fill="#d41a1a">0.48</text>
<text x="253" y="400" font-size="20.3" fill="#d41a1a">0.61</text>
<text x="95.5" y="512" font-size="20" font-weight="bold">Co</text>
<text x="232.5" y="514" font-size="20" font-weight="bold">Fe</text>
<text x="174" y="549" font-size="20" font-weight="bold">P</text>
<path d="M83,426 Q84,447 100,453" fill="none" stroke="#d41a1a" stroke-width="1.6" stroke-dasharray="3.2,2"/>
<polygon points="106,455.5 98.5,456 100.5,450" fill="#d41a1a"/>
<path d="M266.5,420 Q266,439 249,446" fill="none" stroke="#d41a1a" stroke-width="1.6" stroke-dasharray="3.2,2"/>
<polygon points="243,448.5 250.8,449 248.5,443" fill="#d41a1a"/>
<text x="353.6" y="336.2" font-size="31">c</text>
<g stroke-linecap="butt">
<line x1="420.3" y1="412.0" x2="426.4" y2="419.5" stroke="#2b3ab4" stroke-width="3.5"/><line x1="426.4" y1="419.5" x2="432.0" y2="426.5" stroke="#c9b7cc" stroke-width="3.5"/>
<line x1="420.3" y1="412.0" x2="405.8" y2="409.1" stroke="#2b3ab4" stroke-width="3.5"/><line x1="405.8" y1="409.1" x2="392.5" y2="406.4" stroke="#c9b7cc" stroke-width="3.5"/>
<line x1="420.3" y1="412.0" x2="430.0" y2="432.0" stroke="#2b3ab4" stroke-width="3.5"/><line x1="430.0" y1="432.0" x2="439.0" y2="450.5" stroke="#c9b7cc" stroke-width="3.5"/>
<line x1="420.3" y1="412.0" x2="438.4" y2="397.0" stroke="#2b3ab4" stroke-width="3.5"/><line x1="438.4" y1="397.0" x2="455.2" y2="383.2" stroke="#c9b7cc" stroke-width="3.5"/>
<line x1="555.0" y1="376.8" x2="559.4" y2="367.0" stroke="#2b3ab4" stroke-width="3.5"/><line x1="559.4" y1="367.0" x2="563.4" y2="358.0" stroke="#c9b7cc" stroke-width="3.5"/>
<line x1="555.0" y1="376.8" x2="553.8" y2="387.8" stroke="#2b3ab4" stroke-width="3.5"/><line x1="553.8" y1="387.8" x2="552.6" y2="397.9" stroke="#c9b7cc" stroke-width="3.5"/>
<line x1="555.0" y1="376.8" x2="555.1" y2="353.1" stroke="#2b3ab4" stroke-width="3.5"/><line x1="555.1" y1="353.1" x2="555.2" y2="331.3" stroke="#c9b7cc" stroke-width="3.5"/>
<line x1="555.0" y1="376.8" x2="579.1" y2="376.5" stroke="#2b3ab4" stroke-width="3.5"/><line x1="579.1" y1="376.5" x2="601.4" y2="376.2" stroke="#c9b7cc" stroke-width="3.5"/>
<line x1="463.5" y1="456.0" x2="472.0" y2="465.5" stroke="#2b3ab4" stroke-width="3.5"/><line x1="472.0" y1="465.5" x2="479.8" y2="474.2" stroke="#c9b7cc" stroke-width="3.5"/>
<line x1="463.5" y1="456.0" x2="450.8" y2="453.1" stroke="#2b3ab4" stroke-width="3.5"/><line x1="450.8" y1="453.1" x2="439.0" y2="450.5" stroke="#c9b7cc" stroke-width="3.5"/>
<line x1="463.5" y1="456.0" x2="447.1" y2="440.7" stroke="#2b3ab4" stroke-width="3.5"/><line x1="447.1" y1="440.7" x2="432.0" y2="426.5" stroke="#c9b7cc" stroke-width="3.5"/>
<line x1="463.5" y1="456.0" x2="482.5" y2="443.0" stroke="#2b3ab4" stroke-width="3.5"/><line x1="482.5" y1="443.0" x2="500.0" y2="431.0" stroke="#c9b7cc" stroke-width="3.5"/>
<line x1="463.5" y1="456.0" x2="476.5" y2="436.2" stroke="#2b3ab4" stroke-width="3.5"/><line x1="476.5" y1="436.2" x2="488.5" y2="418.0" stroke="#c9b7cc" stroke-width="3.5"/>
<line x1="573.4" y1="443.5" x2="587.5" y2="445.2" stroke="#2b3ab4" stroke-width="3.5"/><line x1="587.5" y1="445.2" x2="600.6" y2="446.7" stroke="#c9b7cc" stroke-width="3.5"/>
<line x1="573.4" y1="443.5" x2="589.5" y2="456.8" stroke="#2b3ab4" stroke-width="3.5"/><line x1="589.5" y1="456.8" x2="604.3" y2="469.0" stroke="#c9b7cc" stroke-width="3.5"/>
<line x1="573.4" y1="443.5" x2="560.5" y2="461.6" stroke="#2b3ab4" stroke-width="3.5"/><line x1="560.5" y1="461.6" x2="548.6" y2="478.4" stroke="#c9b7cc" stroke-width="3.5"/>
<line x1="573.4" y1="443.5" x2="554.7" y2="455.9" stroke="#2b3ab4" stroke-width="3.5"/><line x1="554.7" y1="455.9" x2="537.4" y2="467.3" stroke="#c9b7cc" stroke-width="3.5"/>
<line x1="551.0" y1="435.5" x2="543.9" y2="452.0" stroke="#2b3ab4" stroke-width="3.5"/><line x1="543.9" y1="452.0" x2="537.4" y2="467.3" stroke="#c9b7cc" stroke-width="3.5"/>
<line x1="551.0" y1="435.5" x2="551.8" y2="415.9" stroke="#2b3ab4" stroke-width="3.5"/><line x1="551.8" y1="415.9" x2="552.6" y2="397.9" stroke="#c9b7cc" stroke-width="3.5"/>
<line x1="551.0" y1="435.5" x2="549.8" y2="457.8" stroke="#2b3ab4" stroke-width="3.5"/><line x1="549.8" y1="457.8" x2="548.6" y2="478.4" stroke="#c9b7cc" stroke-width="3.5"/>
<line x1="617.0" y1="485.2" x2="610.4" y2="476.8" stroke="#2b3ab4" stroke-width="3.5"/><line x1="610.4" y1="476.8" x2="604.3" y2="469.0" stroke="#c9b7cc" stroke-width="3.5"/>
<line x1="617.0" y1="485.2" x2="630.0" y2="488.4" stroke="#2b3ab4" stroke-width="3.5"/><line x1="630.0" y1="488.4" x2="642.0" y2="491.3" stroke="#c9b7cc" stroke-width="3.5"/>
<line x1="617.0" y1="485.2" x2="608.5" y2="465.2" stroke="#2b3ab4" stroke-width="3.5"/><line x1="608.5" y1="465.2" x2="600.6" y2="446.7" stroke="#c9b7cc" stroke-width="3.5"/>
<line x1="617.0" y1="485.2" x2="599.7" y2="500.0" stroke="#2b3ab4" stroke-width="3.5"/><line x1="599.7" y1="500.0" x2="583.8" y2="513.6" stroke="#c9b7cc" stroke-width="3.5"/>
<line x1="571.0" y1="500.0" x2="577.7" y2="507.1" stroke="#2b3ab4" stroke-width="3.5"/><line x1="577.7" y1="507.1" x2="583.8" y2="513.6" stroke="#c9b7cc" stroke-width="3.5"/>
<line x1="571.0" y1="500.0" x2="559.4" y2="488.8" stroke="#2b3ab4" stroke-width="3.5"/><line x1="559.4" y1="488.8" x2="548.6" y2="478.4" stroke="#c9b7cc" stroke-width="3.5"/>
<line x1="571.0" y1="500.0" x2="554.5" y2="494.6" stroke="#2b3ab4" stroke-width="3.5"/><line x1="554.5" y1="494.6" x2="539.2" y2="489.6" stroke="#c9b7cc" stroke-width="3.5"/>
<line x1="571.0" y1="500.0" x2="580.8" y2="520.9" stroke="#2b3ab4" stroke-width="3.5"/><line x1="580.8" y1="520.9" x2="589.8" y2="540.2" stroke="#c9b7cc" stroke-width="3.5"/>
<line x1="571.0" y1="500.0" x2="588.3" y2="483.9" stroke="#2b3ab4" stroke-width="3.5"/><line x1="588.3" y1="483.9" x2="604.3" y2="469.0" stroke="#c9b7cc" stroke-width="3.5"/>
<line x1="571.0" y1="500.0" x2="553.5" y2="483.0" stroke="#2b3ab4" stroke-width="3.5"/><line x1="553.5" y1="483.0" x2="537.4" y2="467.3" stroke="#c9b7cc" stroke-width="3.5"/>
<line x1="533.3" y1="510.0" x2="531.6" y2="520.8" stroke="#2b3ab4" stroke-width="3.5"/><line x1="531.6" y1="520.8" x2="530.0" y2="530.8" stroke="#c9b7cc" stroke-width="3.5"/>
<line x1="533.3" y1="510.0" x2="536.4" y2="499.4" stroke="#2b3ab4" stroke-width="3.5"/><line x1="536.4" y1="499.4" x2="539.2" y2="489.6" stroke="#c9b7cc" stroke-width="3.5"/>
<line x1="533.3" y1="510.0" x2="541.3" y2="493.6" stroke="#2b3ab4" stroke-width="3.5"/><line x1="541.3" y1="493.6" x2="548.6" y2="478.4" stroke="#c9b7cc" stroke-width="3.5"/>
<line x1="533.3" y1="510.0" x2="532.1" y2="529.8" stroke="#2b3ab4" stroke-width="3.5"/><line x1="532.1" y1="529.8" x2="531.0" y2="548.0" stroke="#c9b7cc" stroke-width="3.5"/>
<line x1="533.3" y1="510.0" x2="535.4" y2="487.8" stroke="#2b3ab4" stroke-width="3.5"/><line x1="535.4" y1="487.8" x2="537.4" y2="467.3" stroke="#c9b7cc" stroke-width="3.5"/>
<line x1="448.8" y1="533.2" x2="442.1" y2="526.1" stroke="#2b3ab4" stroke-width="3.5"/><line x1="442.1" y1="526.1" x2="436.0" y2="519.6" stroke="#c9b7cc" stroke-width="3.5"/>
<line x1="448.8" y1="533.2" x2="461.4" y2="533.6" stroke="#2b3ab4" stroke-width="3.5"/><line x1="461.4" y1="533.6" x2="473.0" y2="534.0" stroke="#c9b7cc" stroke-width="3.5"/>
<line x1="448.8" y1="533.2" x2="459.1" y2="540.8" stroke="#2b3ab4" stroke-width="3.5"/><line x1="459.1" y1="540.8" x2="468.6" y2="547.9" stroke="#c9b7cc" stroke-width="3.5"/>
<line x1="448.8" y1="533.2" x2="429.2" y2="546.6" stroke="#2b3ab4" stroke-width="3.5"/><line x1="429.2" y1="546.6" x2="411.2" y2="559.0" stroke="#c9b7cc" stroke-width="3.5"/>
<line x1="448.8" y1="533.2" x2="465.8" y2="549.7" stroke="#2b3ab4" stroke-width="3.5"/><line x1="465.8" y1="549.7" x2="481.5" y2="565.0" stroke="#c9b7cc" stroke-width="3.5"/>
<line x1="421.7" y1="554.6" x2="420.2" y2="572.1" stroke="#2b3ab4" stroke-width="3.5"/><line x1="420.2" y1="572.1" x2="418.9" y2="588.2" stroke="#c9b7cc" stroke-width="3.5"/>
<line x1="421.7" y1="554.6" x2="429.1" y2="536.4" stroke="#2b3ab4" stroke-width="3.5"/><line x1="429.1" y1="536.4" x2="436.0" y2="519.6" stroke="#c9b7cc" stroke-width="3.5"/>
<line x1="611.8" y1="544.6" x2="620.0" y2="552.1" stroke="#2b3ab4" stroke-width="3.5"/><line x1="620.0" y1="552.1" x2="627.5" y2="559.0" stroke="#c9b7cc" stroke-width="3.5"/>
<line x1="611.8" y1="544.6" x2="600.4" y2="542.3" stroke="#2b3ab4" stroke-width="3.5"/><line x1="600.4" y1="542.3" x2="589.8" y2="540.2" stroke="#c9b7cc" stroke-width="3.5"/>
<line x1="611.8" y1="544.6" x2="597.2" y2="528.5" stroke="#2b3ab4" stroke-width="3.5"/><line x1="597.2" y1="528.5" x2="583.8" y2="513.6" stroke="#c9b7cc" stroke-width="3.5"/>
<line x1="611.8" y1="544.6" x2="631.6" y2="531.6" stroke="#2b3ab4" stroke-width="3.5"/><line x1="631.6" y1="531.6" x2="649.8" y2="519.6" stroke="#c9b7cc" stroke-width="3.5"/>
<line x1="441.5" y1="407.5" x2="435.6" y2="419.3" stroke="#2b3ab4" stroke-width="3.5"/><line x1="435.6" y1="419.3" x2="432.0" y2="426.5" stroke="#c9b7cc" stroke-width="3.5"/>
<line x1="441.5" y1="407.5" x2="450.0" y2="392.4" stroke="#2b3ab4" stroke-width="3.5"/><line x1="450.0" y1="392.4" x2="455.2" y2="383.2" stroke="#c9b7cc" stroke-width="3.5"/>
<line x1="441.5" y1="407.5" x2="442.1" y2="381.6" stroke="#2b3ab4" stroke-width="3.5"/><line x1="442.1" y1="381.6" x2="442.5" y2="365.7" stroke="#c9b7cc" stroke-width="3.5"/>
<line x1="441.5" y1="407.5" x2="439.9" y2="434.2" stroke="#2b3ab4" stroke-width="3.5"/><line x1="439.9" y1="434.2" x2="439.0" y2="450.5" stroke="#c9b7cc" stroke-width="3.5"/>
<line x1="470.0" y1="400.0" x2="460.8" y2="389.6" stroke="#2b3ab4" stroke-width="3.5"/><line x1="460.8" y1="389.6" x2="455.2" y2="383.2" stroke="#c9b7cc" stroke-width="3.5"/>
<line x1="470.0" y1="400.0" x2="481.5" y2="411.2" stroke="#2b3ab4" stroke-width="3.5"/><line x1="481.5" y1="411.2" x2="488.5" y2="418.0" stroke="#c9b7cc" stroke-width="3.5"/>
<line x1="470.0" y1="400.0" x2="487.7" y2="402.0" stroke="#2b3ab4" stroke-width="3.5"/><line x1="487.7" y1="402.0" x2="498.6" y2="403.3" stroke="#c9b7cc" stroke-width="3.5"/>
<line x1="470.0" y1="400.0" x2="488.6" y2="419.2" stroke="#2b3ab4" stroke-width="3.5"/><line x1="488.6" y1="419.2" x2="500.0" y2="431.0" stroke="#c9b7cc" stroke-width="3.5"/>
<line x1="470.0" y1="400.0" x2="452.9" y2="378.7" stroke="#2b3ab4" stroke-width="3.5"/><line x1="452.9" y1="378.7" x2="442.5" y2="365.7" stroke="#c9b7cc" stroke-width="3.5"/>
<line x1="470.0" y1="400.0" x2="446.4" y2="416.4" stroke="#2b3ab4" stroke-width="3.5"/><line x1="446.4" y1="416.4" x2="432.0" y2="426.5" stroke="#c9b7cc" stroke-width="3.5"/>
<line x1="502.0" y1="385.5" x2="499.9" y2="396.5" stroke="#2b3ab4" stroke-width="3.5"/><line x1="499.9" y1="396.5" x2="498.6" y2="403.3" stroke="#c9b7cc" stroke-width="3.5"/>
<line x1="502.0" y1="385.5" x2="504.5" y2="373.5" stroke="#2b3ab4" stroke-width="3.5"/><line x1="504.5" y1="373.5" x2="506.0" y2="366.1" stroke="#c9b7cc" stroke-width="3.5"/>
<line x1="502.0" y1="385.5" x2="493.6" y2="405.6" stroke="#2b3ab4" stroke-width="3.5"/><line x1="493.6" y1="405.6" x2="488.5" y2="418.0" stroke="#c9b7cc" stroke-width="3.5"/>
<line x1="502.0" y1="385.5" x2="504.2" y2="362.2" stroke="#2b3ab4" stroke-width="3.5"/><line x1="504.2" y1="362.2" x2="505.5" y2="348.0" stroke="#c9b7cc" stroke-width="3.5"/>
<line x1="502.0" y1="385.5" x2="500.8" y2="413.7" stroke="#2b3ab4" stroke-width="3.5"/><line x1="500.8" y1="413.7" x2="500.0" y2="431.0" stroke="#c9b7cc" stroke-width="3.5"/>
<line x1="502.0" y1="385.5" x2="473.0" y2="384.1" stroke="#2b3ab4" stroke-width="3.5"/><line x1="473.0" y1="384.1" x2="455.2" y2="383.2" stroke="#c9b7cc" stroke-width="3.5"/>
<line x1="527.0" y1="391.0" x2="542.9" y2="395.3" stroke="#2b3ab4" stroke-width="3.5"/><line x1="542.9" y1="395.3" x2="552.6" y2="397.9" stroke="#c9b7cc" stroke-width="3.5"/>
<line x1="527.0" y1="391.0" x2="509.4" y2="398.6" stroke="#2b3ab4" stroke-width="3.5"/><line x1="509.4" y1="398.6" x2="498.6" y2="403.3" stroke="#c9b7cc" stroke-width="3.5"/>
<line x1="527.0" y1="391.0" x2="514.0" y2="375.6" stroke="#2b3ab4" stroke-width="3.5"/><line x1="514.0" y1="375.6" x2="506.0" y2="366.1" stroke="#c9b7cc" stroke-width="3.5"/>
<line x1="589.0" y1="428.0" x2="596.2" y2="439.6" stroke="#2b3ab4" stroke-width="3.5"/><line x1="596.2" y1="439.6" x2="600.6" y2="446.7" stroke="#c9b7cc" stroke-width="3.5"/>
<line x1="589.0" y1="428.0" x2="599.5" y2="414.6" stroke="#2b3ab4" stroke-width="3.5"/><line x1="599.5" y1="414.6" x2="606.0" y2="406.4" stroke="#c9b7cc" stroke-width="3.5"/>
<line x1="589.0" y1="428.0" x2="598.5" y2="453.4" stroke="#2b3ab4" stroke-width="3.5"/><line x1="598.5" y1="453.4" x2="604.3" y2="469.0" stroke="#c9b7cc" stroke-width="3.5"/>
<line x1="488.5" y1="463.0" x2="483.1" y2="469.9" stroke="#2b3ab4" stroke-width="3.5"/><line x1="483.1" y1="469.9" x2="479.8" y2="474.2" stroke="#c9b7cc" stroke-width="3.5"/>
<line x1="488.5" y1="463.0" x2="495.6" y2="443.2" stroke="#2b3ab4" stroke-width="3.5"/><line x1="495.6" y1="443.2" x2="500.0" y2="431.0" stroke="#c9b7cc" stroke-width="3.5"/>
<line x1="488.5" y1="463.0" x2="488.5" y2="435.1" stroke="#2b3ab4" stroke-width="3.5"/><line x1="488.5" y1="435.1" x2="488.5" y2="418.0" stroke="#c9b7cc" stroke-width="3.5"/>
<line x1="437.0" y1="475.5" x2="431.1" y2="485.3" stroke="#2b3ab4" stroke-width="3.5"/><line x1="431.1" y1="485.3" x2="427.5" y2="491.3" stroke="#c9b7cc" stroke-width="3.5"/>
<line x1="437.0" y1="475.5" x2="438.2" y2="460.0" stroke="#2b3ab4" stroke-width="3.5"/><line x1="438.2" y1="460.0" x2="439.0" y2="450.5" stroke="#c9b7cc" stroke-width="3.5"/>
<line x1="437.0" y1="475.5" x2="463.5" y2="474.7" stroke="#2b3ab4" stroke-width="3.5"/><line x1="463.5" y1="474.7" x2="479.8" y2="474.2" stroke="#c9b7cc" stroke-width="3.5"/>
<line x1="437.0" y1="475.5" x2="436.4" y2="502.8" stroke="#2b3ab4" stroke-width="3.5"/><line x1="436.4" y1="502.8" x2="436.0" y2="519.6" stroke="#c9b7cc" stroke-width="3.5"/>
<line x1="437.0" y1="475.5" x2="408.2" y2="472.0" stroke="#2b3ab4" stroke-width="3.5"/><line x1="408.2" y1="472.0" x2="390.6" y2="469.9" stroke="#c9b7cc" stroke-width="3.5"/>
<line x1="495.5" y1="506.5" x2="481.6" y2="523.5" stroke="#2b3ab4" stroke-width="3.5"/><line x1="481.6" y1="523.5" x2="473.0" y2="534.0" stroke="#c9b7cc" stroke-width="3.5"/>
<line x1="495.5" y1="506.5" x2="485.8" y2="486.5" stroke="#2b3ab4" stroke-width="3.5"/><line x1="485.8" y1="486.5" x2="479.8" y2="474.2" stroke="#c9b7cc" stroke-width="3.5"/>
<line x1="495.5" y1="506.5" x2="516.9" y2="521.6" stroke="#2b3ab4" stroke-width="3.5"/><line x1="516.9" y1="521.6" x2="530.0" y2="530.8" stroke="#c9b7cc" stroke-width="3.5"/>
<line x1="495.5" y1="506.5" x2="522.6" y2="496.0" stroke="#2b3ab4" stroke-width="3.5"/><line x1="522.6" y1="496.0" x2="539.2" y2="489.6" stroke="#c9b7cc" stroke-width="3.5"/>
<line x1="448.8" y1="533.2" x2="437.7" y2="511.4" stroke="#2b3ab4" stroke-width="3.5"/><line x1="437.7" y1="511.4" x2="427.5" y2="491.3" stroke="#c9b7cc" stroke-width="3.5"/>
<line x1="463.5" y1="456.0" x2="444.8" y2="474.4" stroke="#2b3ab4" stroke-width="3.5"/><line x1="444.8" y1="474.4" x2="427.5" y2="491.3" stroke="#c9b7cc" stroke-width="3.5"/>
<line x1="527.0" y1="391.0" x2="513.7" y2="364.3" stroke="#2b3ab4" stroke-width="3.5"/><line x1="513.7" y1="364.3" x2="505.5" y2="348.0" stroke="#c9b7cc" stroke-width="3.5"/>
<line x1="470.0" y1="400.0" x2="457.0" y2="373.0" stroke="#2b3ab4" stroke-width="3.5"/><line x1="457.0" y1="373.0" x2="449.0" y2="356.5" stroke="#c9b7cc" stroke-width="3.5"/>
<line x1="441.5" y1="407.5" x2="446.1" y2="375.9" stroke="#2b3ab4" stroke-width="3.5"/><line x1="446.1" y1="375.9" x2="449.0" y2="356.5" stroke="#c9b7cc" stroke-width="3.5"/>
<line x1="470.0" y1="400.0" x2="492.3" y2="379.0" stroke="#2b3ab4" stroke-width="3.5"/><line x1="492.3" y1="379.0" x2="506.0" y2="366.1" stroke="#c9b7cc" stroke-width="3.5"/>
<line x1="441.5" y1="407.5" x2="411.1" y2="406.8" stroke="#2b3ab4" stroke-width="3.5"/><line x1="411.1" y1="406.8" x2="392.5" y2="406.4" stroke="#c9b7cc" stroke-width="3.5"/>
<line x1="420.3" y1="412.0" x2="401.4" y2="429.6" stroke="#2b3ab4" stroke-width="3.5"/><line x1="401.4" y1="429.6" x2="384.0" y2="445.9" stroke="#c9b7cc" stroke-width="3.5"/>
<line x1="527.0" y1="391.0" x2="549.6" y2="370.5" stroke="#2b3ab4" stroke-width="3.5"/><line x1="549.6" y1="370.5" x2="563.4" y2="358.0" stroke="#c9b7cc" stroke-width="3.5"/>
<line x1="617.0" y1="485.2" x2="635.9" y2="467.2" stroke="#2b3ab4" stroke-width="3.5"/><line x1="635.9" y1="467.2" x2="653.3" y2="450.5" stroke="#c9b7cc" stroke-width="3.5"/>
<line x1="421.7" y1="554.6" x2="398.2" y2="547.1" stroke="#2b3ab4" stroke-width="3.5"/><line x1="398.2" y1="547.1" x2="376.5" y2="540.2" stroke="#c9b7cc" stroke-width="3.5"/>
<line x1="617.0" y1="485.2" x2="634.1" y2="503.1" stroke="#2b3ab4" stroke-width="3.5"/><line x1="634.1" y1="503.1" x2="649.8" y2="519.6" stroke="#c9b7cc" stroke-width="3.5"/>
<line x1="611.8" y1="544.6" x2="594.5" y2="563.3" stroke="#2b3ab4" stroke-width="3.5"/><line x1="594.5" y1="563.3" x2="578.6" y2="580.5" stroke="#c9b7cc" stroke-width="3.5"/>
<line x1="420.3" y1="412.0" x2="431.8" y2="387.9" stroke="#2b3ab4" stroke-width="3.5"/><line x1="431.8" y1="387.9" x2="442.5" y2="365.7" stroke="#c9b7cc" stroke-width="3.5"/>
<line x1="573.4" y1="443.5" x2="590.4" y2="424.2" stroke="#2b3ab4" stroke-width="3.5"/><line x1="590.4" y1="424.2" x2="606.0" y2="406.4" stroke="#c9b7cc" stroke-width="3.5"/>
<line x1="421.7" y1="554.6" x2="446.1" y2="551.1" stroke="#2b3ab4" stroke-width="3.5"/><line x1="446.1" y1="551.1" x2="468.6" y2="547.9" stroke="#c9b7cc" stroke-width="3.5"/>
<line x1="495.5" y1="506.5" x2="478.8" y2="532.2" stroke="#2b3ab4" stroke-width="3.5"/><line x1="478.8" y1="532.2" x2="468.6" y2="547.9" stroke="#c9b7cc" stroke-width="3.5"/>
<line x1="571.0" y1="500.0" x2="549.7" y2="516.0" stroke="#2b3ab4" stroke-width="3.5"/><line x1="549.7" y1="516.0" x2="530.0" y2="530.8" stroke="#c9b7cc" stroke-width="3.5"/>
<line x1="420.3" y1="412.0" x2="401.4" y2="429.6" stroke="#2b3ab4" stroke-width="3.5"/><line x1="401.4" y1="429.6" x2="384.0" y2="445.9" stroke="#c9b7cc" stroke-width="3.5"/>
<line x1="555.0" y1="376.8" x2="555.1" y2="353.1" stroke="#2b3ab4" stroke-width="3.5"/><line x1="555.1" y1="353.1" x2="555.2" y2="331.3" stroke="#c9b7cc" stroke-width="3.5"/>
<line x1="555.0" y1="376.8" x2="579.1" y2="376.5" stroke="#2b3ab4" stroke-width="3.5"/><line x1="579.1" y1="376.5" x2="601.4" y2="376.2" stroke="#c9b7cc" stroke-width="3.5"/>
<line x1="617.0" y1="485.2" x2="635.9" y2="467.2" stroke="#2b3ab4" stroke-width="3.5"/><line x1="635.9" y1="467.2" x2="653.3" y2="450.5" stroke="#c9b7cc" stroke-width="3.5"/>
<line x1="611.8" y1="544.6" x2="631.6" y2="531.6" stroke="#2b3ab4" stroke-width="3.5"/><line x1="631.6" y1="531.6" x2="649.8" y2="519.6" stroke="#c9b7cc" stroke-width="3.5"/>
<line x1="611.8" y1="544.6" x2="594.5" y2="563.3" stroke="#2b3ab4" stroke-width="3.5"/><line x1="594.5" y1="563.3" x2="578.6" y2="580.5" stroke="#c9b7cc" stroke-width="3.5"/>
<line x1="421.7" y1="554.6" x2="398.2" y2="547.1" stroke="#2b3ab4" stroke-width="3.5"/><line x1="398.2" y1="547.1" x2="376.5" y2="540.2" stroke="#c9b7cc" stroke-width="3.5"/>
<line x1="421.7" y1="554.6" x2="420.2" y2="572.1" stroke="#2b3ab4" stroke-width="3.5"/><line x1="420.2" y1="572.1" x2="418.9" y2="588.2" stroke="#c9b7cc" stroke-width="3.5"/>
<line x1="589.0" y1="428.0" x2="624.3" y2="426.1" stroke="#2b3ab4" stroke-width="3.5"/><line x1="624.3" y1="426.1" x2="646.0" y2="425.0" stroke="#c9b7cc" stroke-width="3.5"/>
<line x1="437.0" y1="475.5" x2="408.2" y2="472.0" stroke="#2b3ab4" stroke-width="3.5"/><line x1="408.2" y1="472.0" x2="390.6" y2="469.9" stroke="#c9b7cc" stroke-width="3.5"/>
<line x1="502.0" y1="385.5" x2="504.2" y2="362.2" stroke="#2b3ab4" stroke-width="3.5"/><line x1="504.2" y1="362.2" x2="505.5" y2="348.0" stroke="#c9b7cc" stroke-width="3.5"/>
<line x1="531.0" y1="548.0" x2="529.2" y2="567.3" stroke="#2b3ab4" stroke-width="3.5"/><line x1="529.2" y1="567.3" x2="527.5" y2="585.2" stroke="#c9b7cc" stroke-width="3.5"/>
<line x1="470.0" y1="400.0" x2="460.8" y2="389.6" stroke="#2b3ab4" stroke-width="3.5"/><line x1="460.8" y1="389.6" x2="455.2" y2="383.2" stroke="#c9b7cc" stroke-width="3.5"/>
<line x1="441.5" y1="407.5" x2="442.1" y2="381.6" stroke="#2b3ab4" stroke-width="3.5"/><line x1="442.1" y1="381.6" x2="442.5" y2="365.7" stroke="#c9b7cc" stroke-width="3.5"/>
<line x1="617.0" y1="485.2" x2="630.0" y2="488.4" stroke="#2b3ab4" stroke-width="3.5"/><line x1="630.0" y1="488.4" x2="642.0" y2="491.3" stroke="#c9b7cc" stroke-width="3.5"/>
<line x1="611.8" y1="544.6" x2="620.0" y2="552.1" stroke="#2b3ab4" stroke-width="3.5"/><line x1="620.0" y1="552.1" x2="627.5" y2="559.0" stroke="#c9b7cc" stroke-width="3.5"/>
<line x1="468.6" y1="547.9" x2="475.3" y2="556.8" stroke="#2b3ab4" stroke-width="3.5"/><line x1="475.3" y1="556.8" x2="481.5" y2="565.0" stroke="#c9b7cc" stroke-width="3.5"/>
<line x1="527.3" y1="445.0" x2="513.6" y2="438.0" stroke="#d39a28" stroke-width="3.5"/><line x1="513.6" y1="438.0" x2="500.0" y2="431.0" stroke="#c9b7cc" stroke-width="3.5"/>
<line x1="527.3" y1="445.0" x2="533.2" y2="467.3" stroke="#d39a28" stroke-width="3.5"/><line x1="533.2" y1="467.3" x2="539.2" y2="489.6" stroke="#c9b7cc" stroke-width="3.5"/>
<line x1="527.3" y1="445.0" x2="507.9" y2="431.5" stroke="#d39a28" stroke-width="3.5"/><line x1="507.9" y1="431.5" x2="488.5" y2="418.0" stroke="#c9b7cc" stroke-width="3.5"/>
</g>
<circle cx="432.0" cy="426.5" r="8.6" fill="url(#cP)" stroke="#000" stroke-opacity="0.25" stroke-width="0.5"/>
<circle cx="498.6" cy="403.3" r="8.6" fill="url(#cP)" stroke="#000" stroke-opacity="0.25" stroke-width="0.5"/>
<circle cx="427.5" cy="491.3" r="8.6" fill="url(#cP)" stroke="#000" stroke-opacity="0.25" stroke-width="0.5"/>
<circle cx="411.2" cy="559.0" r="8.6" fill="url(#cP)" stroke="#000" stroke-opacity="0.25" stroke-width="0.5"/>
<circle cx="479.8" cy="474.2" r="8.6" fill="url(#cP)" stroke="#000" stroke-opacity="0.25" stroke-width="0.5"/>
<circle cx="473.0" cy="534.0" r="8.6" fill="url(#cP)" stroke="#000" stroke-opacity="0.25" stroke-width="0.5"/>
<circle cx="537.4" cy="467.3" r="8.6" fill="url(#cP)" stroke="#000" stroke-opacity="0.25" stroke-width="0.5"/>
<circle cx="600.6" cy="446.7" r="8.6" fill="url(#cP)" stroke="#000" stroke-opacity="0.25" stroke-width="0.5"/>
<circle cx="505.5" cy="348.0" r="8.9" fill="url(#cP)" stroke="#000" stroke-opacity="0.25" stroke-width="0.5"/>
<circle cx="449.0" cy="356.5" r="8.9" fill="url(#cP)" stroke="#000" stroke-opacity="0.25" stroke-width="0.5"/>
<circle cx="506.0" cy="366.1" r="8.9" fill="url(#cP)" stroke="#000" stroke-opacity="0.25" stroke-width="0.5"/>
<circle cx="392.5" cy="406.4" r="8.9" fill="url(#cP)" stroke="#000" stroke-opacity="0.25" stroke-width="0.5"/>
<circle cx="384.0" cy="445.9" r="8.9" fill="url(#cP)" stroke="#000" stroke-opacity="0.25" stroke-width="0.5"/>
<circle cx="439.0" cy="450.5" r="8.9" fill="url(#cP)" stroke="#000" stroke-opacity="0.25" stroke-width="0.5"/>
<circle cx="500.0" cy="431.0" r="8.9" fill="url(#cP)" stroke="#000" stroke-opacity="0.25" stroke-width="0.5"/>
<circle cx="555.2" cy="331.3" r="8.9" fill="url(#cP)" stroke="#000" stroke-opacity="0.25" stroke-width="0.5"/>
<circle cx="563.4" cy="358.0" r="8.9" fill="url(#cP)" stroke="#000" stroke-opacity="0.25" stroke-width="0.5"/>
<circle cx="601.4" cy="376.2" r="8.9" fill="url(#cP)" stroke="#000" stroke-opacity="0.25" stroke-width="0.5"/>
<circle cx="646.0" cy="425.0" r="8.9" fill="url(#cP)" stroke="#000" stroke-opacity="0.25" stroke-width="0.5"/>
<circle cx="653.3" cy="450.5" r="8.9" fill="url(#cP)" stroke="#000" stroke-opacity="0.25" stroke-width="0.5"/>
<circle cx="390.6" cy="469.9" r="8.9" fill="url(#cP)" stroke="#000" stroke-opacity="0.25" stroke-width="0.5"/>
<circle cx="376.5" cy="540.2" r="8.9" fill="url(#cP)" stroke="#000" stroke-opacity="0.25" stroke-width="0.5"/>
<circle cx="481.5" cy="565.0" r="8.9" fill="url(#cP)" stroke="#000" stroke-opacity="0.25" stroke-width="0.5"/>
<circle cx="418.9" cy="588.2" r="8.9" fill="url(#cP)" stroke="#000" stroke-opacity="0.25" stroke-width="0.5"/>
<circle cx="527.5" cy="585.2" r="8.9" fill="url(#cP)" stroke="#000" stroke-opacity="0.25" stroke-width="0.5"/>
<circle cx="531.0" cy="548.0" r="8.9" fill="url(#cP)" stroke="#000" stroke-opacity="0.25" stroke-width="0.5"/>
<circle cx="642.0" cy="491.3" r="8.9" fill="url(#cP)" stroke="#000" stroke-opacity="0.25" stroke-width="0.5"/>
<circle cx="649.8" cy="519.6" r="8.9" fill="url(#cP)" stroke="#000" stroke-opacity="0.25" stroke-width="0.5"/>
<circle cx="589.8" cy="540.2" r="8.9" fill="url(#cP)" stroke="#000" stroke-opacity="0.25" stroke-width="0.5"/>
<circle cx="578.6" cy="580.5" r="8.9" fill="url(#cP)" stroke="#000" stroke-opacity="0.25" stroke-width="0.5"/>
<circle cx="627.5" cy="559.0" r="8.9" fill="url(#cP)" stroke="#000" stroke-opacity="0.25" stroke-width="0.5"/>
<circle cx="420.3" cy="412.0" r="9.6" fill="url(#cCo)" stroke="#000" stroke-opacity="0.25" stroke-width="0.5"/>
<circle cx="555.0" cy="376.8" r="9.6" fill="url(#cCo)" stroke="#000" stroke-opacity="0.25" stroke-width="0.5"/>
<circle cx="463.5" cy="456.0" r="9.6" fill="url(#cCo)" stroke="#000" stroke-opacity="0.25" stroke-width="0.5"/>
<circle cx="573.4" cy="443.5" r="9.6" fill="url(#cCo)" stroke="#000" stroke-opacity="0.25" stroke-width="0.5"/>
<circle cx="551.0" cy="435.5" r="9.6" fill="url(#cCo)" stroke="#000" stroke-opacity="0.25" stroke-width="0.5"/>
<circle cx="617.0" cy="485.2" r="9.6" fill="url(#cCo)" stroke="#000" stroke-opacity="0.25" stroke-width="0.5"/>
<circle cx="571.0" cy="500.0" r="9.6" fill="url(#cCo)" stroke="#000" stroke-opacity="0.25" stroke-width="0.5"/>
<circle cx="533.3" cy="510.0" r="9.6" fill="url(#cCo)" stroke="#000" stroke-opacity="0.25" stroke-width="0.5"/>
<circle cx="448.8" cy="533.2" r="9.6" fill="url(#cCo)" stroke="#000" stroke-opacity="0.25" stroke-width="0.5"/>
<circle cx="421.7" cy="554.6" r="9.6" fill="url(#cCo)" stroke="#000" stroke-opacity="0.25" stroke-width="0.5"/>
<circle cx="611.8" cy="544.6" r="9.6" fill="url(#cCo)" stroke="#000" stroke-opacity="0.25" stroke-width="0.5"/>
<circle cx="551.5" cy="436" r="5.5" fill="#2fb7b0"/>
<polygon points="545,378 552,384 547,390 541,385" fill="#2fb7b0"/>
<polygon points="571.7,556.8 580.3,546.2 589.8,556.8" fill="#60e3a4"/>
<g stroke="#e02626" stroke-width="3.2">
<line x1="549.6" y1="417" x2="536" y2="401"/><line x1="549.6" y1="417" x2="531" y2="440"/><line x1="549.6" y1="417" x2="566" y2="423"/>
<line x1="464.2" y1="485.2" x2="450" y2="480"/><line x1="464.2" y1="485.2" x2="479" y2="494"/>
</g>
<g clip-path="url(#ccell)">
<circle cx="404.5" cy="379.0" r="7.5" fill="#cdcd34" fill-opacity="0.70"/>
<circle cx="606.0" cy="382.0" r="7.0" fill="#cdcd34" fill-opacity="0.70"/>
<circle cx="428.0" cy="527.0" r="9.0" fill="#cdcd34" fill-opacity="0.70"/>
<circle cx="429.0" cy="549.0" r="8.5" fill="#cdcd34" fill-opacity="0.70"/>
<circle cx="627.5" cy="549.5" r="9.0" fill="#cdcd34" fill-opacity="0.70"/>
<circle cx="629.0" cy="523.0" r="5.0" fill="#cdcd34" fill-opacity="0.70"/>
<circle cx="527.0" cy="557.5" r="5.0" fill="#cdcd34" fill-opacity="0.70"/>
<circle cx="423.0" cy="464.0" r="8.0" fill="#cdcd34" fill-opacity="0.70"/>
<circle cx="505.0" cy="450.0" r="10.0" fill="#cdcd34" fill-opacity="0.70"/>
<circle cx="513.0" cy="510.0" r="10.0" fill="#cdcd34" fill-opacity="0.70"/>
<circle cx="487.0" cy="525.5" r="10.0" fill="#cdcd34" fill-opacity="0.70"/>
<circle cx="594.0" cy="482.5" r="12.5" fill="#cdcd34" fill-opacity="0.70"/>
<circle cx="464.5" cy="487.0" r="9.0" fill="#cdcd34" fill-opacity="0.70"/>
<circle cx="573.0" cy="498.0" r="5.0" fill="#cdcd34" fill-opacity="0.70"/>
<circle cx="545.0" cy="514.0" r="4.0" fill="#cdcd34" fill-opacity="0.70"/>
</g>
<circle cx="440.0" cy="412.0" r="14.6" fill="#cdcd34" fill-opacity="0.70"/>
<circle cx="443.0" cy="403.5" r="14.2" fill="#cdcd34" fill-opacity="0.60"/>
<circle cx="441.5" cy="407.5" r="10.4" fill="url(#cOl)" stroke="#000" stroke-opacity="0.25" stroke-width="0.5"/>
<circle cx="468.5" cy="404.5" r="14.6" fill="#cdcd34" fill-opacity="0.70"/>
<circle cx="471.5" cy="396.0" r="14.2" fill="#cdcd34" fill-opacity="0.60"/>
<circle cx="470.0" cy="400.0" r="10.4" fill="url(#cOl)" stroke="#000" stroke-opacity="0.25" stroke-width="0.5"/>
<circle cx="500.5" cy="390.0" r="14.6" fill="#cdcd34" fill-opacity="0.70"/>
<circle cx="503.5" cy="381.5" r="14.2" fill="#cdcd34" fill-opacity="0.60"/>
<circle cx="502.0" cy="385.5" r="10.4" fill="url(#cOl)" stroke="#000" stroke-opacity="0.25" stroke-width="0.5"/>
<circle cx="525.5" cy="395.5" r="14.6" fill="#cdcd34" fill-opacity="0.70"/>
<circle cx="528.5" cy="387.0" r="14.2" fill="#cdcd34" fill-opacity="0.60"/>
<circle cx="527.0" cy="391.0" r="10.4" fill="url(#cOl)" stroke="#000" stroke-opacity="0.25" stroke-width="0.5"/>
<circle cx="587.5" cy="432.5" r="14.6" fill="#cdcd34" fill-opacity="0.70"/>
<circle cx="590.5" cy="424.0" r="14.2" fill="#cdcd34" fill-opacity="0.60"/>
<circle cx="589.0" cy="428.0" r="10.4" fill="url(#cOl)" stroke="#000" stroke-opacity="0.25" stroke-width="0.5"/>
<circle cx="487.0" cy="467.5" r="14.6" fill="#cdcd34" fill-opacity="0.70"/>
<circle cx="490.0" cy="459.0" r="14.2" fill="#cdcd34" fill-opacity="0.60"/>
<circle cx="488.5" cy="463.0" r="10.4" fill="url(#cOl)" stroke="#000" stroke-opacity="0.25" stroke-width="0.5"/>
<circle cx="435.5" cy="480.0" r="14.6" fill="#cdcd34" fill-opacity="0.70"/>
<circle cx="438.5" cy="471.5" r="14.2" fill="#cdcd34" fill-opacity="0.60"/>
<circle cx="437.0" cy="475.5" r="10.4" fill="url(#cOl)" stroke="#000" stroke-opacity="0.25" stroke-width="0.5"/>
<circle cx="494.0" cy="511.0" r="14.6" fill="#cdcd34" fill-opacity="0.70"/>
<circle cx="497.0" cy="502.5" r="14.2" fill="#cdcd34" fill-opacity="0.60"/>
<circle cx="495.5" cy="506.5" r="10.4" fill="url(#cOl)" stroke="#000" stroke-opacity="0.25" stroke-width="0.5"/>
<circle cx="584.0" cy="436.0" r="13.0" fill="#cdcd34" fill-opacity="0.55"/>
<circle cx="596.0" cy="419.0" r="10.0" fill="#cdcd34" fill-opacity="0.50"/>
<circle cx="584.5" cy="432.5" r="9.4" fill="url(#cOl)" stroke="#000" stroke-opacity="0.25" stroke-width="0.5"/>
<circle cx="591.0" cy="426.0" r="9.4" fill="url(#cOl)" stroke="#000" stroke-opacity="0.25" stroke-width="0.5"/>
<circle cx="503.0" cy="503.0" r="12.0" fill="#cdcd34" fill-opacity="0.45"/>
<circle cx="526.3" cy="445.0" r="16.0" fill="#cdcd34" fill-opacity="0.60"/>
<circle cx="528.3" cy="447.0" r="14.0" fill="#cdcd34" fill-opacity="0.40"/>
<circle cx="527.3" cy="445.0" r="10.0" fill="url(#cFe)" stroke="#000" stroke-opacity="0.25" stroke-width="0.5"/>
<circle cx="549.6" cy="417.0" r="5.2" fill="url(#cO)" stroke="#000" stroke-opacity="0.25" stroke-width="0.5"/>
<circle cx="547" cy="417.5" r="2.3" fill="#f2a12a"/>
<circle cx="464.2" cy="485.2" r="5.2" fill="url(#cOo)" stroke="#000" stroke-opacity="0.25" stroke-width="0.5"/>
<circle cx="442.5" cy="365.7" r="8.9" fill="url(#cP)" stroke="#000" stroke-opacity="0.25" stroke-width="0.5"/>
<circle cx="455.2" cy="383.2" r="8.9" fill="url(#cP)" stroke="#000" stroke-opacity="0.25" stroke-width="0.5"/>
<circle cx="488.5" cy="418.0" r="8.9" fill="url(#cP)" stroke="#000" stroke-opacity="0.25" stroke-width="0.5"/>
<circle cx="552.6" cy="397.9" r="8.9" fill="url(#cP)" stroke="#000" stroke-opacity="0.25" stroke-width="0.5"/>
<circle cx="606.0" cy="406.4" r="8.9" fill="url(#cP)" stroke="#000" stroke-opacity="0.25" stroke-width="0.5"/>
<circle cx="436.0" cy="519.6" r="8.9" fill="url(#cP)" stroke="#000" stroke-opacity="0.25" stroke-width="0.5"/>
<circle cx="468.6" cy="547.9" r="8.9" fill="url(#cP)" stroke="#000" stroke-opacity="0.25" stroke-width="0.5"/>
<circle cx="530.0" cy="530.8" r="8.9" fill="url(#cP)" stroke="#000" stroke-opacity="0.25" stroke-width="0.5"/>
<circle cx="604.3" cy="469.0" r="8.9" fill="url(#cP)" stroke="#000" stroke-opacity="0.25" stroke-width="0.5"/>
<circle cx="539.2" cy="489.6" r="8.9" fill="url(#cP)" stroke="#000" stroke-opacity="0.25" stroke-width="0.5"/>
<circle cx="548.6" cy="478.4" r="8.9" fill="url(#cP)" stroke="#000" stroke-opacity="0.25" stroke-width="0.5"/>
<circle cx="583.8" cy="513.6" r="8.9" fill="url(#cP)" stroke="#000" stroke-opacity="0.25" stroke-width="0.5"/>
<polygon points="396.4,374.7 610.6,374.7 636.6,556.8 422,556.8" fill="none" stroke="#111" stroke-width="0.8"/>
<line x1="329.5" y1="563" x2="326" y2="540" stroke="#22c022" stroke-width="1.6"/><polygon points="325,533 322.5,542 329,541" fill="#22c022"/>
<line x1="329.5" y1="563" x2="352" y2="563" stroke="#e02020" stroke-width="1.6"/><polygon points="358,563 350,560 350,566" fill="#e02020"/>
<circle cx="329.3" cy="563.3" r="2.8" fill="#141a66"/>
<text x="323.5" y="533" font-size="4.5" font-weight="bold">b</text><text x="361" y="565" font-size="4.5" font-weight="bold">a</text>
<text x="685" y="336" font-size="31">d</text>
<rect x="690.5" y="362.5" width="12.5" height="222" fill="url(#cbar2)"/>
<line x1="703" x2="706" y1="362.5" y2="362.5" stroke="#000" stroke-width="0.6"/>
<line x1="703" x2="706" y1="384.7" y2="384.7" stroke="#000" stroke-width="0.6"/>
<line x1="703" x2="706" y1="406.9" y2="406.9" stroke="#000" stroke-width="0.6"/>
<line x1="703" x2="706" y1="429.1" y2="429.1" stroke="#000" stroke-width="0.6"/>
<line x1="703" x2="706" y1="451.3" y2="451.3" stroke="#000" stroke-width="0.6"/>
<line x1="703" x2="706" y1="473.5" y2="473.5" stroke="#000" stroke-width="0.6"/>
<line x1="703" x2="706" y1="495.7" y2="495.7" stroke="#000" stroke-width="0.6"/>
<line x1="703" x2="706" y1="517.9" y2="517.9" stroke="#000" stroke-width="0.6"/>
<line x1="703" x2="706" y1="540.1" y2="540.1" stroke="#000" stroke-width="0.6"/>
<line x1="703" x2="706" y1="562.3" y2="562.3" stroke="#000" stroke-width="0.6"/>
<line x1="703" x2="706" y1="584.5" y2="584.5" stroke="#000" stroke-width="0.6"/>
<text x="710.8" y="368.5" font-size="18.3">0.17</text>
<text x="711.8" y="581.8" font-size="18.3">-0.17</text>
<g clip-path="url(#hc4)"><g filter="url(#jet)">
<rect x="742" y="355" width="303" height="231" fill="rgb(117,117,117)"/>
<circle cx="903.0" cy="386.4" r="9.0" fill="url(#g4_0)"/>
<circle cx="805.5" cy="406.7" r="11.5" fill="url(#g4_1)" transform="translate(805.5 406.7) rotate(30) scale(1.00 0.90) translate(-805.5 -406.7)"/>
<path d="M964,425 Q975,413.5 980,418 Q984,428 982.5,435 Q977.5,441.5 972.5,438.5 Q964,432 964,425Z" fill="#fff" stroke="#fff" stroke-width="4" stroke-linejoin="round"/>
<rect x="-12.5" y="-14" width="25" height="28" rx="10.5" ry="11.5" fill="#fff" transform="translate(905.8,448.5) rotate(10)"/>
<rect x="-11.5" y="-10" width="23" height="20" rx="9" ry="9" fill="#fff" transform="translate(807.5,485) rotate(15)"/>
<rect x="-12.5" y="-12.5" width="25" height="25" rx="8" ry="8" fill="#fff" transform="translate(873.5,517.5) rotate(-15)"/>
<circle cx="795.0" cy="577.0" r="12.0" fill="url(#g4_6)"/>
<circle cx="994.0" cy="365.0" r="8.0" fill="url(#g4_7)"/>
</g></g>
<polygon points="752.9,367.6 995.5,365.8 1036.4,575.7 794.5,577.5" fill="none" stroke="#000" stroke-width="0.8"/>
<text x="14.3" y="614.6" font-size="31">e</text>
<line x1="194.5" x2="194.5" y1="606.3" y2="846.3" stroke="#333" stroke-width="0.8"/>
<path d="M194.5,606.4 L187.9,606.4 L185.6,607.8 L187.1,609.2 L186.7,610.6 L188.4,612.0 L187.1,613.4 L190.7,614.8 L187.1,616.2 L190.7,617.6 L187.0,619.0 L190.5,620.4 L187.4,621.8 L189.0,623.2 L185.8,624.6 L190.0,626.0 L186.9,627.4 L188.1,628.8 L185.9,630.2 L188.5,631.6 L187.1,633.0 L187.3,634.4 L187.9,635.8 L187.8,637.2 L187.3,638.6 L190.1,640.0 L187.2,641.4 L189.3,642.8 L185.5,644.2 L189.5,645.6 L185.5,647.0 L187.2,648.4 L185.4,649.8 L187.3,651.2 L185.6,652.6 L189.3,654.0 L184.7,655.4 L185.5,656.8 L183.3,658.2 L186.9,659.6 L181.3,661.0 L183.8,662.4 L178.0,663.8 L178.0,665.2 L173.7,666.6 L182.3,668.0 L175.4,669.4 L181.5,670.8 L173.3,672.2 L174.1,673.6 L172.0,675.0 L174.0,676.4 L176.2,677.8 L179.1,679.2 L168.1,680.6 L177.2,682.0 L158.3,683.4 L173.5,684.8 L151.3,686.2 L161.9,687.6 L162.4,689.0 L171.2,690.4 L171.0,691.8 L174.9,693.2 L170.7,694.6 L174.8,696.0 L167.0,697.4 L166.0,698.8 L159.1,700.2 L172.7,701.6 L164.4,703.0 L179.4,704.4 L166.6,705.8 L175.6,707.2 L171.7,708.6 L178.7,710.0 L179.2,711.4 L184.5,712.8 L180.5,714.2 L188.3,715.6 L183.1,717.0 L188.5,718.4 L185.7,719.8 L190.0,721.2 L186.5,722.6 L190.9,724.0 L189.2,725.4 L190.5,726.8 L191.4,728.2 L192.3,729.6 L193.2,731.0 L194.5,732.4 L194.5,732.4 Z" fill="#4b87d3" stroke="#0a1a3a" stroke-width="0.6" stroke-linejoin="round"/>
<path d="M194.5,732.4 L194.5,732.4 L194.6,733.0 L194.8,733.6 L194.9,734.2 L195.0,734.8 L195.1,735.4 L195.3,736.0 L195.4,736.4 L195.4,736.6 L195.8,737.2 L196.1,737.8 L196.5,738.4 L196.8,739.0 L197.1,739.4 L197.5,739.6 L198.8,740.2 L200.4,740.8 L201.7,741.4 L203.3,742.0 L204.5,742.4 L205.7,742.6 L209.8,743.2 L214.1,743.8 L218.5,744.4 L234.7,745.0 L254.3,745.6 L238.4,746.2 L223.3,746.8 L220.2,747.4 L217.5,748.0 L215.4,748.4 L214.4,748.6 L213.3,749.2 L211.8,749.8 L211.5,750.4 L210.1,750.8 L210.4,751.0 L211.5,751.6 L212.4,752.2 L213.7,752.8 L214.2,753.4 L215.3,754.0 L216.9,754.6 L218.0,755.2 L219.8,755.8 L220.4,756.4 L224.7,757.0 L226.5,757.6 L227.7,758.2 L230.3,758.8 L229.3,759.4 L228.1,760.0 L226.2,760.6 L227.7,760.8 L232.5,761.2 L237.5,761.8 L243.9,762.4 L235.2,763.0 L226.7,763.6 L221.5,764.2 L217.4,764.8 L213.6,765.4 L211.8,766.0 L210.8,766.6 L208.3,767.2 L206.5,767.8 L205.6,768.4 L204.4,769.0 L203.2,769.6 L202.6,770.2 L201.4,770.8 L200.7,771.4 L200.0,772.0 L199.4,772.4 L199.2,772.6 L198.6,773.2 L198.3,773.8 L197.8,774.4 L197.6,775.0 L197.2,775.6 L196.8,776.2 L196.6,776.4 L196.5,776.8 L196.5,777.4 L196.5,778.0 L196.3,778.6 L196.2,779.2 L196.1,779.8 L196.0,780.4 L195.9,781.0 L195.8,781.6 L195.7,782.2 L195.6,782.8 L195.5,783.4 L195.4,784.0 L195.3,784.4 L195.4,784.6 L195.4,785.2 L195.4,785.8 L195.4,786.4 L195.4,787.0 L195.5,787.6 L195.4,788.2 L195.4,788.8 L195.4,789.4 L195.4,790.0 L195.4,790.6 L195.5,791.2 L195.5,791.8 L195.5,792.4 L195.5,793.0 L195.5,793.6 L195.6,794.2 L195.5,794.8 L195.6,795.4 L195.6,796.0 L195.6,796.4 L195.6,796.6 L195.6,797.2 L195.7,797.8 L195.8,798.4 L195.8,799.0 L195.9,799.6 L195.9,800.2 L195.9,800.8 L196.0,801.4 L196.1,802.0 L196.1,802.6 L196.1,803.2 L196.1,803.8 L196.2,804.4 L196.5,805.0 L196.8,805.6 L196.9,806.2 L197.3,806.8 L197.6,807.4 L197.8,808.0 L198.0,808.6 L198.3,809.2 L198.3,809.4 L199.1,809.8 L200.9,810.4 L202.1,811.0 L203.4,811.6 L205.1,812.2 L205.2,812.4 L210.6,812.8 L217.9,813.4 L223.9,814.0 L254.8,814.6 L285.1,815.2 L305.2,815.6 L296.1,815.8 L268.7,816.4 L250.4,816.8 L247.4,817.0 L238.6,817.6 L229.0,818.2 L226.2,818.4 L223.6,818.8 L220.5,819.4 L216.0,820.0 L213.7,820.4 L212.9,820.6 L212.7,821.2 L210.6,821.8 L209.5,822.4 L208.4,823.0 L207.8,823.4 L207.1,823.6 L206.9,824.2 L205.9,824.8 L205.3,825.4 L204.6,826.0 L203.8,826.4 L204.0,826.6 L203.2,827.2 L202.6,827.8 L202.6,828.4 L201.8,828.8 L201.5,829.0 L200.1,829.6 L198.6,830.2 L197.0,830.8 L195.8,831.4 L194.5,832.0 Z" fill="#cf2a2e" stroke="#2a0a0a" stroke-width="0.5" stroke-linejoin="round"/>
<line x1="59.0" x2="331.0" y1="686.4" y2="686.4" stroke="#222" stroke-width="0.8" stroke-dasharray="3.2,2.6"/>
<path d="M331.0,606.3 L59.0,606.3 L59.0,846.3 L331.0,846.3" fill="none" stroke="#4a4a4a" stroke-width="0.9"/><line x1="331.0" y1="606.3" x2="331.0" y2="846.3" stroke="#b4b4b4" stroke-width="1.2"/>
<line x1="59.0" x2="63.0" y1="846.4" y2="846.4" stroke="#333" stroke-width="0.8"/>
<line x1="59.0" x2="61.5" y1="826.4" y2="826.4" stroke="#333" stroke-width="0.8"/>
<line x1="59.0" x2="63.0" y1="806.4" y2="806.4" stroke="#333" stroke-width="0.8"/>
<line x1="59.0" x2="61.5" y1="786.4" y2="786.4" stroke="#333" stroke-width="0.8"/>
<line x1="59.0" x2="63.0" y1="766.4" y2="766.4" stroke="#333" stroke-width="0.8"/>
<line x1="59.0" x2="61.5" y1="746.4" y2="746.4" stroke="#333" stroke-width="0.8"/>
<line x1="59.0" x2="63.0" y1="726.4" y2="726.4" stroke="#333" stroke-width="0.8"/>
<line x1="59.0" x2="61.5" y1="706.4" y2="706.4" stroke="#333" stroke-width="0.8"/>
<line x1="59.0" x2="63.0" y1="686.4" y2="686.4" stroke="#333" stroke-width="0.8"/>
<line x1="59.0" x2="61.5" y1="666.4" y2="666.4" stroke="#333" stroke-width="0.8"/>
<line x1="59.0" x2="63.0" y1="646.4" y2="646.4" stroke="#333" stroke-width="0.8"/>
<line x1="59.0" x2="61.5" y1="626.4" y2="626.4" stroke="#333" stroke-width="0.8"/>
<line x1="59.0" x2="63.0" y1="606.4" y2="606.4" stroke="#333" stroke-width="0.8"/>
<line x1="65.5" x2="65.5" y1="846.3" y2="842.3" stroke="#333" stroke-width="0.8"/>
<line x1="97.8" x2="97.8" y1="846.3" y2="843.8" stroke="#333" stroke-width="0.8"/>
<line x1="130.0" x2="130.0" y1="846.3" y2="842.3" stroke="#333" stroke-width="0.8"/>
<line x1="162.2" x2="162.2" y1="846.3" y2="843.8" stroke="#333" stroke-width="0.8"/>
<line x1="194.5" x2="194.5" y1="846.3" y2="842.3" stroke="#333" stroke-width="0.8"/>
<line x1="226.8" x2="226.8" y1="846.3" y2="843.8" stroke="#333" stroke-width="0.8"/>
<line x1="259.0" x2="259.0" y1="846.3" y2="842.3" stroke="#333" stroke-width="0.8"/>
<line x1="291.2" x2="291.2" y1="846.3" y2="843.8" stroke="#333" stroke-width="0.8"/>
<line x1="323.5" x2="323.5" y1="846.3" y2="842.3" stroke="#333" stroke-width="0.8"/>
<text x="55.5" y="612.2" font-size="18.5" text-anchor="end">4</text>
<text x="55.5" y="652.2" font-size="18.5" text-anchor="end">2</text>
<text x="55.5" y="692.2" font-size="18.5" text-anchor="end">0</text>
<text x="55.5" y="732.2" font-size="18.5" text-anchor="end">-2</text>
<text x="55.5" y="772.2" font-size="18.5" text-anchor="end">-4</text>
<text x="55.5" y="812.2" font-size="18.5" text-anchor="end">-6</text>
<text x="55.5" y="852.2" font-size="18.5" text-anchor="end">-8</text>
<text x="73.8" y="868.3" font-size="18.5" text-anchor="middle">-6</text>
<text x="131.5" y="868.3" font-size="18.5" text-anchor="middle">-3</text>
<text x="193.8" y="868.5" font-size="18.5" text-anchor="middle">0</text>
<text x="251.5" y="867.7" font-size="18.5" text-anchor="middle">3</text>
<text x="310.8" y="870.3" font-size="18.5" text-anchor="middle">6</text>
<text x="191" y="893.5" font-size="19" text-anchor="middle">E-E<tspan font-size="12.5" dy="3.5">F</tspan><tspan dy="-3.5">(eV)</tspan></text>
<text transform="translate(20.2,732.5) rotate(-90)" font-size="19.6" text-anchor="middle">-pCOHP</text>
<text x="84.5" y="637" font-size="15.5">Co-O bond</text>
<text x="248.5" y="629.5" font-size="15.5">Fe/O-CoP</text>
<text x="216.5" y="718" font-size="15.5">-ICOHP=2.84</text>
<text x="92.5" y="832.5" font-size="15.5" fill="#5b9bd5">antibonding</text>
<text x="223.5" y="832.5" font-size="15.5" fill="#a3262a">bonding</text>
<text x="81.5" y="754" font-size="12.5" font-weight="bold" font-style="italic" fill="#2e86c9">e<tspan font-size="8.5" dy="2.5">g</tspan></text>
<text x="80.5" y="774" font-size="12.5" font-weight="bold" fill="#c8252b">t<tspan font-size="8.5" dy="2.5" font-style="italic">2g</tspan></text>
<line x1="105" x2="174" y1="750.4" y2="750.4" stroke="#000" stroke-width="2"/>
<line x1="105" x2="174" y1="769.5" y2="769.5" stroke="#000" stroke-width="2"/>
<line x1="124.8" x2="124.8" y1="755.0" y2="744.5" stroke="#3a78c4" stroke-width="2"/><polygon points="122.1,746.5 127.5,746.5 124.8,741.5" fill="#3a78c4"/>
<line x1="112.2" x2="112.2" y1="776.0" y2="765.5" stroke="#d0262b" stroke-width="2"/><polygon points="109.5,767.5 114.9,767.5 112.2,762.5" fill="#d0262b"/>
<line x1="119.5" x2="119.5" y1="762.5" y2="773.0" stroke="#d0262b" stroke-width="2"/><polygon points="116.8,771.0 122.2,771.0 119.5,776.0" fill="#d0262b"/>
<line x1="136.5" x2="136.5" y1="776.0" y2="765.5" stroke="#d0262b" stroke-width="2"/><polygon points="133.8,767.5 139.2,767.5 136.5,762.5" fill="#d0262b"/>
<line x1="143.3" x2="143.3" y1="762.5" y2="773.0" stroke="#d0262b" stroke-width="2"/><polygon points="140.6,771.0 146.0,771.0 143.3,776.0" fill="#d0262b"/>
<line x1="161.4" x2="161.4" y1="776.0" y2="765.5" stroke="#d0262b" stroke-width="2"/><polygon points="158.7,767.5 164.1,767.5 161.4,762.5" fill="#d0262b"/>
<text x="345.8" y="620.2" font-size="31">f</text>
<g clip-path="url(#fclip)">
<g fill="#cf2a33" stroke="#7a1219" stroke-width="0.7">
<circle cx="422.9" cy="846.3" r="2.5"/>
<circle cx="423.3" cy="844.2" r="2.5"/>
<circle cx="423.7" cy="842.1" r="2.5"/>
<circle cx="424.1" cy="840.1" r="2.5"/>
<circle cx="424.4" cy="838.0" r="2.5"/>
<circle cx="424.8" cy="835.9" r="2.5"/>
<circle cx="425.2" cy="833.7" r="2.5"/>
<circle cx="425.6" cy="831.6" r="2.5"/>
<circle cx="426.0" cy="829.6" r="2.5"/>
<circle cx="426.8" cy="827.7" r="2.5"/>
<circle cx="427.5" cy="825.7" r="2.5"/>
<circle cx="428.2" cy="823.8" r="2.5"/>
<circle cx="429.0" cy="821.8" r="2.5"/>
<circle cx="429.7" cy="819.9" r="2.5"/>
<circle cx="430.5" cy="818.0" r="2.5"/>
<circle cx="431.6" cy="816.3" r="2.5"/>
<circle cx="432.6" cy="814.6" r="2.5"/>
<circle cx="433.7" cy="812.9" r="2.5"/>
<circle cx="434.7" cy="811.1" r="2.5"/>
<circle cx="435.8" cy="809.4" r="2.5"/>
<circle cx="436.8" cy="807.7" r="2.5"/>
<circle cx="438.2" cy="806.2" r="2.5"/>
<circle cx="439.7" cy="804.9" r="2.5"/>
<circle cx="441.2" cy="803.6" r="2.5"/>
<circle cx="442.7" cy="802.2" r="2.5"/>
<circle cx="444.3" cy="800.9" r="2.5"/>
<circle cx="445.8" cy="799.6" r="2.5"/>
<circle cx="447.3" cy="798.2" r="2.5"/>
<circle cx="448.8" cy="796.9" r="2.5"/>
<circle cx="450.3" cy="795.6" r="2.5"/>
<circle cx="452.0" cy="794.5" r="2.5"/>
<circle cx="453.7" cy="793.4" r="2.5"/>
<circle cx="455.4" cy="792.3" r="2.5"/>
<circle cx="457.1" cy="791.3" r="2.5"/>
<circle cx="458.8" cy="790.2" r="2.5"/>
<circle cx="460.5" cy="789.1" r="2.5"/>
<circle cx="462.1" cy="788.0" r="2.5"/>
<circle cx="463.8" cy="786.9" r="2.5"/>
<circle cx="465.5" cy="785.8" r="2.5"/>
<circle cx="467.4" cy="785.0" r="2.5"/>
<circle cx="469.3" cy="784.3" r="2.5"/>
<circle cx="471.1" cy="783.6" r="2.5"/>
<circle cx="473.0" cy="782.9" r="2.5"/>
<circle cx="474.9" cy="782.2" r="2.5"/>
<circle cx="476.8" cy="781.5" r="2.5"/>
<circle cx="478.7" cy="780.7" r="2.5"/>
<circle cx="480.6" cy="780.0" r="2.5"/>
<circle cx="483.7" cy="779.1" r="2.5"/>
<circle cx="487.9" cy="777.9" r="2.5"/>
<circle cx="492.2" cy="776.6" r="2.5"/>
<circle cx="496.4" cy="775.4" r="2.5"/>
<circle cx="500.7" cy="774.1" r="2.5"/>
<circle cx="504.9" cy="772.9" r="2.5"/>
<circle cx="509.2" cy="771.6" r="2.5"/>
<circle cx="513.4" cy="770.4" r="2.5"/>
<circle cx="517.7" cy="769.3" r="2.5"/>
<circle cx="521.9" cy="768.2" r="2.5"/>
<circle cx="526.1" cy="767.1" r="2.5"/>
<circle cx="530.4" cy="766.1" r="2.5"/>
<circle cx="534.6" cy="765.0" r="2.5"/>
<circle cx="538.9" cy="763.9" r="2.5"/>
<circle cx="543.1" cy="762.9" r="2.5"/>
<circle cx="547.4" cy="762.0" r="2.5"/>
<circle cx="551.6" cy="761.2" r="2.5"/>
<circle cx="555.9" cy="760.4" r="2.5"/>
<circle cx="560.1" cy="759.6" r="2.5"/>
<circle cx="564.4" cy="758.7" r="2.5"/>
<circle cx="568.6" cy="757.9" r="2.5"/>
<circle cx="572.9" cy="757.1" r="2.5"/>
<circle cx="577.1" cy="756.2" r="2.5"/>
<circle cx="581.4" cy="755.3" r="2.5"/>
<circle cx="585.6" cy="754.4" r="2.5"/>
<circle cx="589.9" cy="753.5" r="2.5"/>
<circle cx="594.1" cy="752.6" r="2.5"/>
<circle cx="598.3" cy="751.6" r="2.5"/>
<circle cx="602.6" cy="750.8" r="2.5"/>
<circle cx="606.8" cy="750.0" r="2.5"/>
<circle cx="611.1" cy="749.3" r="2.5"/>
<circle cx="615.3" cy="748.5" r="2.5"/>
<circle cx="619.6" cy="747.8" r="2.5"/>
<circle cx="623.8" cy="747.1" r="2.5"/>
<circle cx="628.1" cy="746.4" r="2.5"/>
<circle cx="632.3" cy="745.7" r="2.5"/>
<circle cx="636.6" cy="745.0" r="2.5"/>
<circle cx="640.8" cy="744.3" r="2.5"/>
<circle cx="645.1" cy="743.6" r="2.5"/>
<circle cx="649.3" cy="742.9" r="2.5"/>
<circle cx="653.6" cy="742.1" r="2.5"/>
<circle cx="657.8" cy="741.4" r="2.5"/>
<circle cx="662.1" cy="740.7" r="2.5"/>
<circle cx="666.3" cy="740.0" r="2.5"/>
<circle cx="670.5" cy="739.2" r="2.5"/>
<circle cx="674.8" cy="738.5" r="2.5"/>
<circle cx="679.0" cy="737.8" r="2.5"/>
</g>
<g fill="#4ab692" stroke="#16604a" stroke-width="0.7">
<circle cx="425.4" cy="814.3" r="2.5"/>
<circle cx="426.8" cy="812.8" r="2.5"/>
<circle cx="428.1" cy="811.3" r="2.5"/>
<circle cx="429.6" cy="809.8" r="2.5"/>
<circle cx="431.1" cy="808.5" r="2.5"/>
<circle cx="432.6" cy="807.2" r="2.5"/>
<circle cx="434.2" cy="805.9" r="2.5"/>
<circle cx="435.7" cy="804.6" r="2.5"/>
<circle cx="437.3" cy="803.4" r="2.5"/>
<circle cx="438.8" cy="802.1" r="2.5"/>
<circle cx="440.3" cy="800.8" r="2.5"/>
<circle cx="441.9" cy="799.5" r="2.5"/>
<circle cx="443.4" cy="798.2" r="2.5"/>
<circle cx="444.9" cy="796.9" r="2.5"/>
<circle cx="446.5" cy="795.6" r="2.5"/>
<circle cx="448.0" cy="794.4" r="2.5"/>
<circle cx="449.5" cy="793.1" r="2.5"/>
<circle cx="451.1" cy="791.8" r="2.5"/>
<circle cx="452.7" cy="790.5" r="2.5"/>
<circle cx="454.3" cy="789.3" r="2.5"/>
<circle cx="456.0" cy="788.0" r="2.5"/>
<circle cx="457.6" cy="786.8" r="2.5"/>
<circle cx="459.3" cy="785.6" r="2.5"/>
<circle cx="460.9" cy="784.3" r="2.5"/>
<circle cx="462.5" cy="783.1" r="2.5"/>
<circle cx="464.2" cy="781.8" r="2.5"/>
<circle cx="465.8" cy="780.6" r="2.5"/>
<circle cx="467.5" cy="779.3" r="2.5"/>
<circle cx="469.1" cy="778.1" r="2.5"/>
<circle cx="470.8" cy="776.9" r="2.5"/>
<circle cx="472.4" cy="775.7" r="2.5"/>
<circle cx="474.1" cy="774.6" r="2.5"/>
<circle cx="475.8" cy="773.5" r="2.5"/>
<circle cx="477.5" cy="772.4" r="2.5"/>
<circle cx="479.2" cy="771.3" r="2.5"/>
<circle cx="480.9" cy="770.2" r="2.5"/>
<circle cx="482.6" cy="769.1" r="2.5"/>
<circle cx="484.3" cy="768.0" r="2.5"/>
<circle cx="486.0" cy="766.9" r="2.5"/>
<circle cx="487.7" cy="765.8" r="2.5"/>
<circle cx="489.4" cy="764.7" r="2.5"/>
<circle cx="491.1" cy="763.6" r="2.5"/>
<circle cx="492.8" cy="762.5" r="2.5"/>
<circle cx="494.5" cy="761.4" r="2.5"/>
<circle cx="496.2" cy="760.3" r="2.5"/>
<circle cx="497.9" cy="759.2" r="2.5"/>
<circle cx="499.6" cy="758.1" r="2.5"/>
<circle cx="501.3" cy="757.0" r="2.5"/>
<circle cx="503.0" cy="755.9" r="2.5"/>
<circle cx="504.7" cy="754.8" r="2.5"/>
<circle cx="506.4" cy="753.7" r="2.5"/>
<circle cx="508.1" cy="752.6" r="2.5"/>
<circle cx="509.8" cy="751.5" r="2.5"/>
<circle cx="511.5" cy="750.4" r="2.5"/>
<circle cx="513.2" cy="749.3" r="2.5"/>
<circle cx="514.9" cy="748.2" r="2.5"/>
<circle cx="516.6" cy="747.0" r="2.5"/>
<circle cx="518.2" cy="745.7" r="2.5"/>
<circle cx="519.9" cy="744.5" r="2.5"/>
<circle cx="521.5" cy="743.3" r="2.5"/>
<circle cx="523.2" cy="742.1" r="2.5"/>
<circle cx="524.8" cy="740.8" r="2.5"/>
<circle cx="526.5" cy="739.6" r="2.5"/>
<circle cx="528.1" cy="738.4" r="2.5"/>
<circle cx="529.8" cy="737.2" r="2.5"/>
<circle cx="531.4" cy="735.9" r="2.5"/>
<circle cx="533.1" cy="734.7" r="2.5"/>
<circle cx="534.7" cy="733.5" r="2.5"/>
</g>
<g fill="#78bde2" stroke="#2f6a90" stroke-width="0.7">
<circle cx="419.2" cy="846.3" r="2.5"/>
<circle cx="419.3" cy="843.6" r="2.5"/>
<circle cx="419.3" cy="840.9" r="2.5"/>
<circle cx="419.4" cy="838.2" r="2.5"/>
<circle cx="419.4" cy="835.4" r="2.5"/>
<circle cx="419.5" cy="832.7" r="2.5"/>
<circle cx="419.5" cy="830.1" r="2.5"/>
<circle cx="419.8" cy="827.9" r="2.5"/>
<circle cx="420.0" cy="825.6" r="2.5"/>
<circle cx="420.3" cy="823.3" r="2.5"/>
<circle cx="420.6" cy="821.1" r="2.5"/>
<circle cx="420.8" cy="818.8" r="2.5"/>
<circle cx="421.1" cy="816.6" r="2.5"/>
<circle cx="421.3" cy="814.3" r="2.5"/>
<circle cx="421.6" cy="812.3" r="2.5"/>
<circle cx="422.2" cy="810.3" r="2.5"/>
<circle cx="422.7" cy="808.2" r="2.5"/>
<circle cx="423.2" cy="806.2" r="2.5"/>
<circle cx="423.7" cy="804.1" r="2.5"/>
<circle cx="424.3" cy="802.1" r="2.5"/>
<circle cx="425.1" cy="800.3" r="2.5"/>
<circle cx="426.0" cy="798.5" r="2.5"/>
<circle cx="426.8" cy="796.7" r="2.5"/>
<circle cx="427.7" cy="794.8" r="2.5"/>
<circle cx="428.6" cy="792.9" r="2.5"/>
<circle cx="429.6" cy="791.1" r="2.5"/>
<circle cx="430.5" cy="789.2" r="2.5"/>
<circle cx="431.4" cy="787.4" r="2.5"/>
<circle cx="432.4" cy="785.5" r="2.5"/>
<circle cx="433.3" cy="783.6" r="2.5"/>
<circle cx="434.3" cy="781.8" r="2.5"/>
<circle cx="435.2" cy="779.9" r="2.5"/>
<circle cx="436.2" cy="778.1" r="2.5"/>
<circle cx="437.4" cy="776.5" r="2.5"/>
<circle cx="438.7" cy="774.8" r="2.5"/>
<circle cx="439.9" cy="773.2" r="2.5"/>
<circle cx="441.2" cy="771.5" r="2.5"/>
<circle cx="442.4" cy="769.9" r="2.5"/>
<circle cx="443.7" cy="768.3" r="2.5"/>
<circle cx="444.9" cy="766.6" r="2.5"/>
<circle cx="446.2" cy="765.1" r="2.5"/>
<circle cx="447.8" cy="763.8" r="2.5"/>
<circle cx="449.4" cy="762.6" r="2.5"/>
<circle cx="450.9" cy="761.3" r="2.5"/>
<circle cx="452.5" cy="760.1" r="2.5"/>
<circle cx="454.0" cy="758.8" r="2.5"/>
<circle cx="455.6" cy="757.6" r="2.5"/>
<circle cx="457.2" cy="756.3" r="2.5"/>
<circle cx="458.7" cy="755.1" r="2.5"/>
<circle cx="460.3" cy="753.8" r="2.5"/>
<circle cx="462.1" cy="752.8" r="2.5"/>
<circle cx="463.9" cy="751.8" r="2.5"/>
<circle cx="465.7" cy="750.7" r="2.5"/>
<circle cx="467.4" cy="749.7" r="2.5"/>
<circle cx="469.2" cy="748.7" r="2.5"/>
<circle cx="471.0" cy="747.7" r="2.5"/>
<circle cx="472.7" cy="746.6" r="2.5"/>
<circle cx="474.5" cy="745.6" r="2.5"/>
<circle cx="476.3" cy="744.6" r="2.5"/>
<circle cx="478.1" cy="743.6" r="2.5"/>
<circle cx="479.9" cy="742.7" r="2.5"/>
<circle cx="481.7" cy="741.8" r="2.5"/>
<circle cx="483.5" cy="740.9" r="2.5"/>
<circle cx="485.3" cy="740.0" r="2.5"/>
<circle cx="487.2" cy="739.1" r="2.5"/>
<circle cx="489.0" cy="738.2" r="2.5"/>
<circle cx="490.8" cy="737.3" r="2.5"/>
<circle cx="492.6" cy="736.4" r="2.5"/>
<circle cx="494.5" cy="735.5" r="2.5"/>
<circle cx="496.3" cy="734.7" r="2.5"/>
<circle cx="498.2" cy="734.0" r="2.5"/>
<circle cx="500.1" cy="733.3" r="2.5"/>
<circle cx="502.0" cy="732.5" r="2.5"/>
<circle cx="503.8" cy="731.8" r="2.5"/>
<circle cx="505.7" cy="731.1" r="2.5"/>
<circle cx="507.6" cy="730.4" r="2.5"/>
<circle cx="509.5" cy="729.6" r="2.5"/>
<circle cx="511.3" cy="728.9" r="2.5"/>
<circle cx="513.2" cy="728.2" r="2.5"/>
<circle cx="515.1" cy="727.5" r="2.5"/>
<circle cx="517.0" cy="726.9" r="2.5"/>
<circle cx="518.9" cy="726.4" r="2.5"/>
<circle cx="520.9" cy="725.8" r="2.5"/>
<circle cx="522.8" cy="725.3" r="2.5"/>
<circle cx="530.8" cy="722.3" r="2.5"/>
<circle cx="534.5" cy="720.9" r="2.5"/>
<circle cx="538.9" cy="719.0" r="2.5"/>
</g>
</g>
<line x1="407.3" x2="679.0" y1="747.3" y2="747.3" stroke="#111" stroke-width="0.9" stroke-dasharray="3.6,2.4"/>
<line x1="407.3" x2="481.2" y1="780.4" y2="780.4" stroke="#111" stroke-width="0.9" stroke-dasharray="3.6,2.4"/>
<line x1="481.2" x2="481.2" y1="780.4" y2="846.2" stroke="#111" stroke-width="0.9" stroke-dasharray="3.6,2.4"/>
<line x1="634.3" x2="634.3" y1="747.3" y2="846.2" stroke="#111" stroke-width="0.9" stroke-dasharray="3.6,2.4"/>
<path d="M679.0,606.3 L407.3,606.3 L407.3,846.2 L679.0,846.2" fill="none" stroke="#4a4a4a" stroke-width="0.9"/><line x1="679.0" y1="606.3" x2="679.0" y2="846.2" stroke="#b4b4b4" stroke-width="1.2"/>
<line x1="407.3" x2="409.8" y1="832.1" y2="832.1" stroke="#333" stroke-width="0.8"/>
<line x1="407.3" x2="411.3" y1="803.9" y2="803.9" stroke="#333" stroke-width="0.8"/>
<line x1="407.3" x2="409.8" y1="775.6" y2="775.6" stroke="#333" stroke-width="0.8"/>
<line x1="407.3" x2="411.3" y1="747.3" y2="747.3" stroke="#333" stroke-width="0.8"/>
<line x1="407.3" x2="409.8" y1="719.0" y2="719.0" stroke="#333" stroke-width="0.8"/>
<line x1="407.3" x2="411.3" y1="690.7" y2="690.7" stroke="#333" stroke-width="0.8"/>
<line x1="407.3" x2="409.8" y1="662.5" y2="662.5" stroke="#333" stroke-width="0.8"/>
<line x1="407.3" x2="411.3" y1="634.2" y2="634.2" stroke="#333" stroke-width="0.8"/>
<line x1="419.2" x2="419.2" y1="846.2" y2="842.2" stroke="#333" stroke-width="0.8"/>
<line x1="450.2" x2="450.2" y1="846.2" y2="843.7" stroke="#333" stroke-width="0.8"/>
<line x1="481.2" x2="481.2" y1="846.2" y2="842.2" stroke="#333" stroke-width="0.8"/>
<line x1="512.2" x2="512.2" y1="846.2" y2="843.7" stroke="#333" stroke-width="0.8"/>
<line x1="543.2" x2="543.2" y1="846.2" y2="842.2" stroke="#333" stroke-width="0.8"/>
<line x1="574.2" x2="574.2" y1="846.2" y2="843.7" stroke="#333" stroke-width="0.8"/>
<line x1="605.2" x2="605.2" y1="846.2" y2="842.2" stroke="#333" stroke-width="0.8"/>
<line x1="636.2" x2="636.2" y1="846.2" y2="843.7" stroke="#333" stroke-width="0.8"/>
<line x1="667.2" x2="667.2" y1="846.2" y2="842.2" stroke="#333" stroke-width="0.8"/>
<text x="399.8" y="643.5" font-size="18.5" text-anchor="end">2.8</text>
<text x="399.8" y="702.1" font-size="18.5" text-anchor="end">2.4</text>
<text x="399.8" y="757.3" font-size="18.5" text-anchor="end">2.0</text>
<text x="399.8" y="817.4" font-size="18.5" text-anchor="end">1.6</text>
<text x="414.0" y="869.5" font-size="18.5" text-anchor="middle">0</text>
<text x="481.2" y="869.5" font-size="18.5" text-anchor="middle">1</text>
<text x="542.9" y="869.5" font-size="18.5" text-anchor="middle">2</text>
<text x="604.8" y="869.5" font-size="18.5" text-anchor="middle">3</text>
<text x="666.4" y="869.5" font-size="18.5" text-anchor="middle">4</text>
<text x="504" y="897" font-size="19"><tspan font-style="italic">J</tspan><tspan font-size="12.5" dy="4">geo</tspan><tspan dy="-4"> (A cm</tspan><tspan font-size="12.5" dy="-7">-2</tspan><tspan dy="7">)</tspan></text>
<text transform="translate(359.5,728.5) rotate(-90)" font-size="18.5" text-anchor="middle">Cell Voltage (V)</text>
<circle cx="431" cy="622.2" r="2.6" fill="#cf2a33" stroke="#7a1219" stroke-width="0.7"/>
<circle cx="431" cy="638.8" r="2.6" fill="#4ab692" stroke="#16604a" stroke-width="0.7"/>
<circle cx="431" cy="655.2" r="2.6" fill="#78bde2" stroke="#2f6a90" stroke-width="0.7"/>
<text id="fleg1" x="444.6" y="626.8" font-size="14">Co<tspan font-size="9.3" dy="2.7">0.75</tspan><tspan dy="-2.7" font-size="14">&#8203;</tspan>Fe<tspan font-size="9.3" dy="2.7">0.25</tspan><tspan dy="-2.7" font-size="14">&#8203;</tspan>PO<tspan font-size="9.3" dy="2.7">x</tspan><tspan dy="-2.7" font-size="14">&#8203;</tspan>/NF||40% Pt/C&#160;&#160;&#8201;80 °C</text>
<text x="444.6" y="643.7" font-size="14">IrO<tspan font-size="9.3" dy="2.7">2</tspan><tspan dy="-2.7" font-size="14">&#8203;</tspan>||40% Pt/C</text>
<text x="444.6" y="661" font-size="14">NF|| NF</text>
<text id="fan1" x="573.5" y="731.8" font-size="12.5">2V@ 3.47A cm<tspan font-size="8" dy="-5">-2</tspan></text>
<text id="fan2" x="492.6" y="795" font-size="12.5">1.77V@ 1A cm<tspan font-size="8" dy="-5">-2</tspan></text>
<text x="690" y="614.5" font-size="31">g</text>
<path d="M1023.3,605.7 L751.3,605.7 L751.3,847.1 L1023.3,847.1" fill="none" stroke="#4a4a4a" stroke-width="0.9"/><line x1="1023.3" y1="605.7" x2="1023.3" y2="847.1" stroke="#b4b4b4" stroke-width="1.2"/>
<line x1="751.3" x2="755.3" y1="847.1" y2="847.1" stroke="#333" stroke-width="0.8"/>
<line x1="751.3" x2="753.8" y1="808.3" y2="808.3" stroke="#333" stroke-width="0.8"/>
<line x1="751.3" x2="755.3" y1="769.5" y2="769.5" stroke="#333" stroke-width="0.8"/>
<line x1="751.3" x2="753.8" y1="730.7" y2="730.7" stroke="#333" stroke-width="0.8"/>
<line x1="751.3" x2="755.3" y1="691.9" y2="691.9" stroke="#333" stroke-width="0.8"/>
<line x1="751.3" x2="753.8" y1="653.1" y2="653.1" stroke="#333" stroke-width="0.8"/>
<line x1="751.3" x2="755.3" y1="614.3" y2="614.3" stroke="#333" stroke-width="0.8"/>
<line x1="752.0" x2="752.0" y1="847.1" y2="843.1" stroke="#333" stroke-width="0.8"/>
<line x1="784.2" x2="784.2" y1="847.1" y2="844.6" stroke="#333" stroke-width="0.8"/>
<line x1="816.4" x2="816.4" y1="847.1" y2="843.1" stroke="#333" stroke-width="0.8"/>
<line x1="848.5" x2="848.5" y1="847.1" y2="844.6" stroke="#333" stroke-width="0.8"/>
<line x1="880.7" x2="880.7" y1="847.1" y2="843.1" stroke="#333" stroke-width="0.8"/>
<line x1="912.9" x2="912.9" y1="847.1" y2="844.6" stroke="#333" stroke-width="0.8"/>
<line x1="945.0" x2="945.0" y1="847.1" y2="843.1" stroke="#333" stroke-width="0.8"/>
<line x1="977.2" x2="977.2" y1="847.1" y2="844.6" stroke="#333" stroke-width="0.8"/>
<line x1="1009.4" x2="1009.4" y1="847.1" y2="843.1" stroke="#333" stroke-width="0.8"/>
<text x="744.3" y="622.9" font-size="19.2" text-anchor="end">1.5</text>
<text x="744.3" y="701.0" font-size="19.2" text-anchor="end">1.0</text>
<text x="744.3" y="778.8" font-size="19.2" text-anchor="end">0.5</text>
<text x="744.3" y="849.4" font-size="19.2" text-anchor="end">0.0</text>
<text x="752.7" y="869.6" font-size="18.5" text-anchor="middle">0</text>
<text x="818.5" y="869.6" font-size="18.5" text-anchor="middle">25</text>
<text x="885.6" y="869.6" font-size="18.5" text-anchor="middle">50</text>
<text x="947.0" y="869.6" font-size="18.5" text-anchor="middle">75</text>
<text x="1008.7" y="869.6" font-size="18.5" text-anchor="middle">100</text>
<text x="899.4" y="893.2" font-size="19.4" text-anchor="middle">Time (h)</text>
<text transform="translate(704.8,714.5) rotate(-90)" font-size="19" text-anchor="middle"><tspan font-style="italic">J</tspan><tspan font-size="12.5" dy="4">geo</tspan><tspan dy="-4"> (A cm</tspan><tspan font-size="12.5" dy="-7">-2</tspan><tspan dy="7">)</tspan></text>
<g clip-path="url(#gclip)" fill="#fff" fill-opacity="0.85" stroke="#bf4a4a" stroke-width="0.9">
<circle cx="752.0" cy="691.9" r="3.2"/>
<circle cx="755.4" cy="692.3" r="3.2"/>
<circle cx="758.8" cy="692.6" r="3.2"/>
<circle cx="762.3" cy="693.0" r="3.2"/>
<circle cx="765.7" cy="693.4" r="3.2"/>
<circle cx="769.1" cy="693.7" r="3.2"/>
<circle cx="772.5" cy="694.1" r="3.2"/>
<circle cx="776.0" cy="694.4" r="3.2"/>
<circle cx="779.4" cy="694.8" r="3.2"/>
<circle cx="782.8" cy="693.3" r="3.2"/>
<circle cx="786.2" cy="695.5" r="3.2"/>
<circle cx="789.7" cy="695.9" r="3.2"/>
<circle cx="793.1" cy="696.3" r="3.2"/>
<circle cx="796.5" cy="696.6" r="3.2"/>
<circle cx="799.9" cy="697.0" r="3.2"/>
<circle cx="803.4" cy="697.3" r="3.2"/>
<circle cx="806.8" cy="697.7" r="3.2"/>
<circle cx="810.2" cy="698.1" r="3.2"/>
<circle cx="813.6" cy="698.4" r="3.2"/>
<circle cx="817.0" cy="698.8" r="3.2"/>
<circle cx="820.5" cy="699.0" r="3.2"/>
<circle cx="823.9" cy="699.2" r="3.2"/>
<circle cx="827.3" cy="699.4" r="3.2"/>
<circle cx="830.7" cy="699.6" r="3.2"/>
<circle cx="834.2" cy="699.8" r="3.2"/>
<circle cx="837.6" cy="700.1" r="3.2"/>
<circle cx="841.0" cy="700.3" r="3.2"/>
<circle cx="844.4" cy="700.5" r="3.2"/>
<circle cx="847.9" cy="700.7" r="3.2"/>
<circle cx="851.3" cy="700.9" r="3.2"/>
<circle cx="854.7" cy="701.1" r="3.2"/>
<circle cx="858.1" cy="701.3" r="3.2"/>
<circle cx="861.5" cy="701.6" r="3.2"/>
<circle cx="865.0" cy="701.8" r="3.2"/>
<circle cx="868.4" cy="702.0" r="3.2"/>
<circle cx="871.8" cy="702.2" r="3.2"/>
<circle cx="875.2" cy="702.4" r="3.2"/>
<circle cx="878.7" cy="702.6" r="3.2"/>
<circle cx="882.1" cy="702.8" r="3.2"/>
<circle cx="885.5" cy="703.0" r="3.2"/>
<circle cx="888.9" cy="703.1" r="3.2"/>
<circle cx="892.4" cy="703.3" r="3.2"/>
<circle cx="895.8" cy="703.4" r="3.2"/>
<circle cx="899.2" cy="703.6" r="3.2"/>
<circle cx="902.6" cy="703.7" r="3.2"/>
<circle cx="906.1" cy="703.9" r="3.2"/>
<circle cx="909.5" cy="704.0" r="3.2"/>
<circle cx="912.9" cy="703.2" r="3.2"/>
<circle cx="916.3" cy="704.3" r="3.2"/>
<circle cx="919.7" cy="704.5" r="3.2"/>
<circle cx="923.2" cy="704.6" r="3.2"/>
<circle cx="926.6" cy="704.8" r="3.2"/>
<circle cx="930.0" cy="704.9" r="3.2"/>
<circle cx="933.4" cy="705.1" r="3.2"/>
<circle cx="936.9" cy="705.2" r="3.2"/>
<circle cx="940.3" cy="705.4" r="3.2"/>
<circle cx="943.7" cy="705.5" r="3.2"/>
<circle cx="947.1" cy="703.8" r="3.2"/>
<circle cx="950.6" cy="705.8" r="3.2"/>
<circle cx="954.0" cy="705.9" r="3.2"/>
<circle cx="957.4" cy="706.0" r="3.2"/>
<circle cx="960.8" cy="706.2" r="3.2"/>
<circle cx="964.3" cy="706.3" r="3.2"/>
<circle cx="967.7" cy="706.4" r="3.2"/>
<circle cx="971.1" cy="706.6" r="3.2"/>
<circle cx="974.5" cy="706.7" r="3.2"/>
<circle cx="977.9" cy="706.8" r="3.2"/>
<circle cx="981.4" cy="707.0" r="3.2"/>
<circle cx="984.8" cy="706.3" r="3.2"/>
<circle cx="988.2" cy="707.2" r="3.2"/>
<circle cx="991.6" cy="707.4" r="3.2"/>
<circle cx="995.1" cy="707.5" r="3.2"/>
<circle cx="998.5" cy="707.6" r="3.2"/>
<circle cx="1001.9" cy="707.8" r="3.2"/>
<circle cx="1005.3" cy="707.9" r="3.2"/>
<circle cx="1008.8" cy="708.0" r="3.2"/>
<circle cx="1012.2" cy="708.1" r="3.2"/>
<circle cx="1015.6" cy="708.2" r="3.2"/>
<circle cx="1019.0" cy="708.3" r="3.2"/>
<circle cx="1022.5" cy="706.6" r="3.2"/>
</g>
<circle cx="781.5" cy="618.5" r="3.4" fill="none" stroke="#c0504d" stroke-width="0.9"/>
<text id="gleg" x="796.4" y="623.7" font-size="14">Co<tspan font-size="9.3" dy="2.7">0.75</tspan><tspan dy="-2.7" font-size="14">&#8203;</tspan>Fe<tspan font-size="9.3" dy="2.7">0.25</tspan><tspan dy="-2.7" font-size="14">&#8203;</tspan>PO<tspan font-size="9.3" dy="2.7">x</tspan><tspan dy="-2.7" font-size="14">&#8203;</tspan>/NF</text>
<polygon points="803.8,753.6 816.0,751.8 832.4,825.4 820.3,828.8" fill="#48434a" />
<polygon points="816.0,751.8 818.2,753.0 834.3,823.3 832.4,825.4" fill="#6d6870" />
<polygon points="803.8,753.6 816.0,751.8 819.8,769.1 807.7,770.9" fill="#5a4a5e" />
<polygon points="810.4,782.1 819.8,780.7 830.2,827.1 821.5,828.8" fill="#55515a" />
<polygon points="799.0,768.3 807.0,769.7 807.0,772.1 799.0,770.7" fill="#a9b4c2" stroke="#556" stroke-width="0.3"/>
<polygon points="801.8,784.2 822.5,781.4 822.5,784.9 801.8,787.7" fill="#8d9aab" stroke="#445" stroke-width="0.3"/>
<polygon points="807.3,774.3 813.4,773.5 814.2,783.0 808.2,783.8" fill="#7d8b9b" />
<path d="M839.8,746.6 L856.6,777.8 L857.2,818.5 L841.6,784.7 Z M844.5,762.2 L853.7,778.7 L854.0,801.2 L845.7,784.7 Z" fill="#b4b4b4" fill-rule="evenodd" stroke="#555" stroke-width="0.5"/>
<polygon points="855.4,759.6 864.8,776.9 865.8,799.4 856.6,780.4" fill="#7a7a7a" />
<line x1="857.0" y1="762.6" x2="858.2" y2="783.5" stroke="#333" stroke-width="0.4"/>
<line x1="858.5" y1="765.5" x2="859.7" y2="786.6" stroke="#333" stroke-width="0.4"/>
<line x1="860.1" y1="768.4" x2="861.3" y2="789.7" stroke="#333" stroke-width="0.4"/>
<line x1="861.7" y1="771.4" x2="862.9" y2="792.8" stroke="#333" stroke-width="0.4"/>
<line x1="863.2" y1="774.3" x2="864.4" y2="796.0" stroke="#333" stroke-width="0.4"/>
<polygon points="863.0,757.9 874.5,776.9 873.9,797.7 863.6,776.9" fill="#1c1c1c" />
<polygon points="875.2,749.2 891.2,770.9 889.5,800.3 875.7,776.9" fill="#e27b52" />
<polygon points="877.4,756.2 889.0,772.1 887.8,794.2 877.4,776.1" fill="#0a0a0a" />
<polygon points="895.1,751.8 909.4,768.3 907.7,789.0 895.6,771.7" fill="#333333" />
<line x1="895.1" y1="755.8" x2="909.1" y2="772.4" stroke="#777" stroke-width="0.35"/>
<line x1="895.1" y1="759.8" x2="908.7" y2="776.6" stroke="#777" stroke-width="0.35"/>
<line x1="895.1" y1="763.8" x2="908.4" y2="780.7" stroke="#777" stroke-width="0.35"/>
<line x1="895.1" y1="767.7" x2="908.0" y2="784.9" stroke="#777" stroke-width="0.35"/>
<path d="M903.4,735.4 L929.3,759.6 L922.9,801.2 L898.7,776.1 Z M907.7,751.0 L921.5,762.2 L918.1,785.6 L905.6,771.7 Z" fill="#d4d4d4" fill-rule="evenodd" fill-opacity="0.85" stroke="#999" stroke-width="0.5"/>
<polygon points="922.4,731.9 937.1,730.2 963.9,751.0 956.1,782.1 942.3,795.1 937.1,793.4 918.9,759.6" fill="#322d33" />
<polygon points="922.4,731.9 937.1,730.2 963.9,751.0 950.1,754.1" fill="#4b4052" />
<polygon points="950.1,754.1 963.9,751.0 956.1,782.1 942.3,795.1" fill="#2a262b" />
<line x1="924.1" y1="741.4" x2="948.4" y2="757.0" stroke="#5a555c" stroke-width="0.4"/>
<line x1="924.8" y1="749.7" x2="947.3" y2="764.8" stroke="#5a555c" stroke-width="0.4"/>
<line x1="925.5" y1="758.1" x2="946.3" y2="772.6" stroke="#5a555c" stroke-width="0.4"/>
<line x1="926.2" y1="766.4" x2="945.2" y2="780.4" stroke="#5a555c" stroke-width="0.4"/>
<line x1="926.9" y1="774.7" x2="944.2" y2="788.2" stroke="#5a555c" stroke-width="0.4"/>
<polygon points="946.1,738.8 951.8,740.9 951.8,743.0 946.1,740.9" fill="#77727c" />
<polygon points="950.6,752.3 964.5,749.7 964.5,752.7 950.6,755.3" fill="#8a8690" stroke="#444" stroke-width="0.3"/>
<polygon points="918.9,759.6 928.5,752.7 928.5,776.9 923.3,782.1" fill="#d4d4d4" fill-opacity="0.5"/>
<line x1="832" y1="746" x2="836.5" y2="752" stroke="#111" stroke-width="0.5"/>
<line x1="857" y1="749" x2="855.5" y2="757" stroke="#111" stroke-width="0.5" stroke-dasharray="1.5,1"/>
<line x1="894" y1="738" x2="897" y2="750" stroke="#111" stroke-width="0.5"/>
<line x1="889" y1="790" x2="899.5" y2="806" stroke="#111" stroke-width="0.5"/>
<line x1="873" y1="800" x2="869.5" y2="819" stroke="#111" stroke-width="0.5" stroke-dasharray="1.5,1"/>
<line x1="953" y1="780" x2="965" y2="792" stroke="#111" stroke-width="0.5"/>
<line x1="802" y1="817" x2="811" y2="808" stroke="#111" stroke-width="0.5"/>
<text x="814.0" y="744.0" font-size="7.2" font-weight="bold">Gasket</text>
<text x="846.4" y="745.8" font-size="7.2" font-weight="bold">PTL:NF</text>
<text x="881.4" y="734.2" font-size="7.2" font-weight="bold">PTL:CP</text>
<text x="973.0" y="735.5" font-size="7.2" font-weight="bold">H<tspan font-size="5" dy="1.3">2</tspan><tspan dy="-1.3" font-size="7.2">&#8203;</tspan>+H<tspan font-size="5" dy="1.3">2</tspan><tspan dy="-1.3" font-size="7.2">&#8203;</tspan>O</text>
<text x="962.2" y="762.0" font-size="7.2" font-weight="bold">1M KOH +H<tspan font-size="5" dy="1.3">2</tspan><tspan dy="-1.3" font-size="7.2">&#8203;</tspan>O</text>
<text x="957.9" y="799.0" font-size="7.2" font-weight="bold">Cathode</text>
<text x="900.2" y="813.0" font-size="7.2" font-weight="bold">Pt/C-CCM</text>
<text x="837.5" y="827.0" font-size="7.2" font-weight="bold">Co<tspan font-size="5" dy="1.3">0.75</tspan><tspan dy="-1.3" font-size="7.2">&#8203;</tspan>Fe<tspan font-size="5" dy="1.3">0.25</tspan><tspan dy="-1.3" font-size="7.2">&#8203;</tspan>PO<tspan font-size="5" dy="1.3">x</tspan><tspan dy="-1.3" font-size="7.2">&#8203;</tspan>/NF-CCS</text>
<text x="785.8" y="825.5" font-size="7.2" font-weight="bold">Anode</text>
<text x="760.8" y="805.3" font-size="7.2" font-weight="bold">1M KOH +H<tspan font-size="5" dy="1.3">2</tspan><tspan dy="-1.3" font-size="7.2">&#8203;</tspan>O</text>
<text x="771.0" y="765.7" font-size="7.2" font-weight="bold">O<tspan font-size="5" dy="1.3">2</tspan><tspan dy="-1.3" font-size="7.2">&#8203;</tspan>+H<tspan font-size="5" dy="1.3">2</tspan><tspan dy="-1.3" font-size="7.2">&#8203;</tspan>O</text>
</svg>
</body></html>
